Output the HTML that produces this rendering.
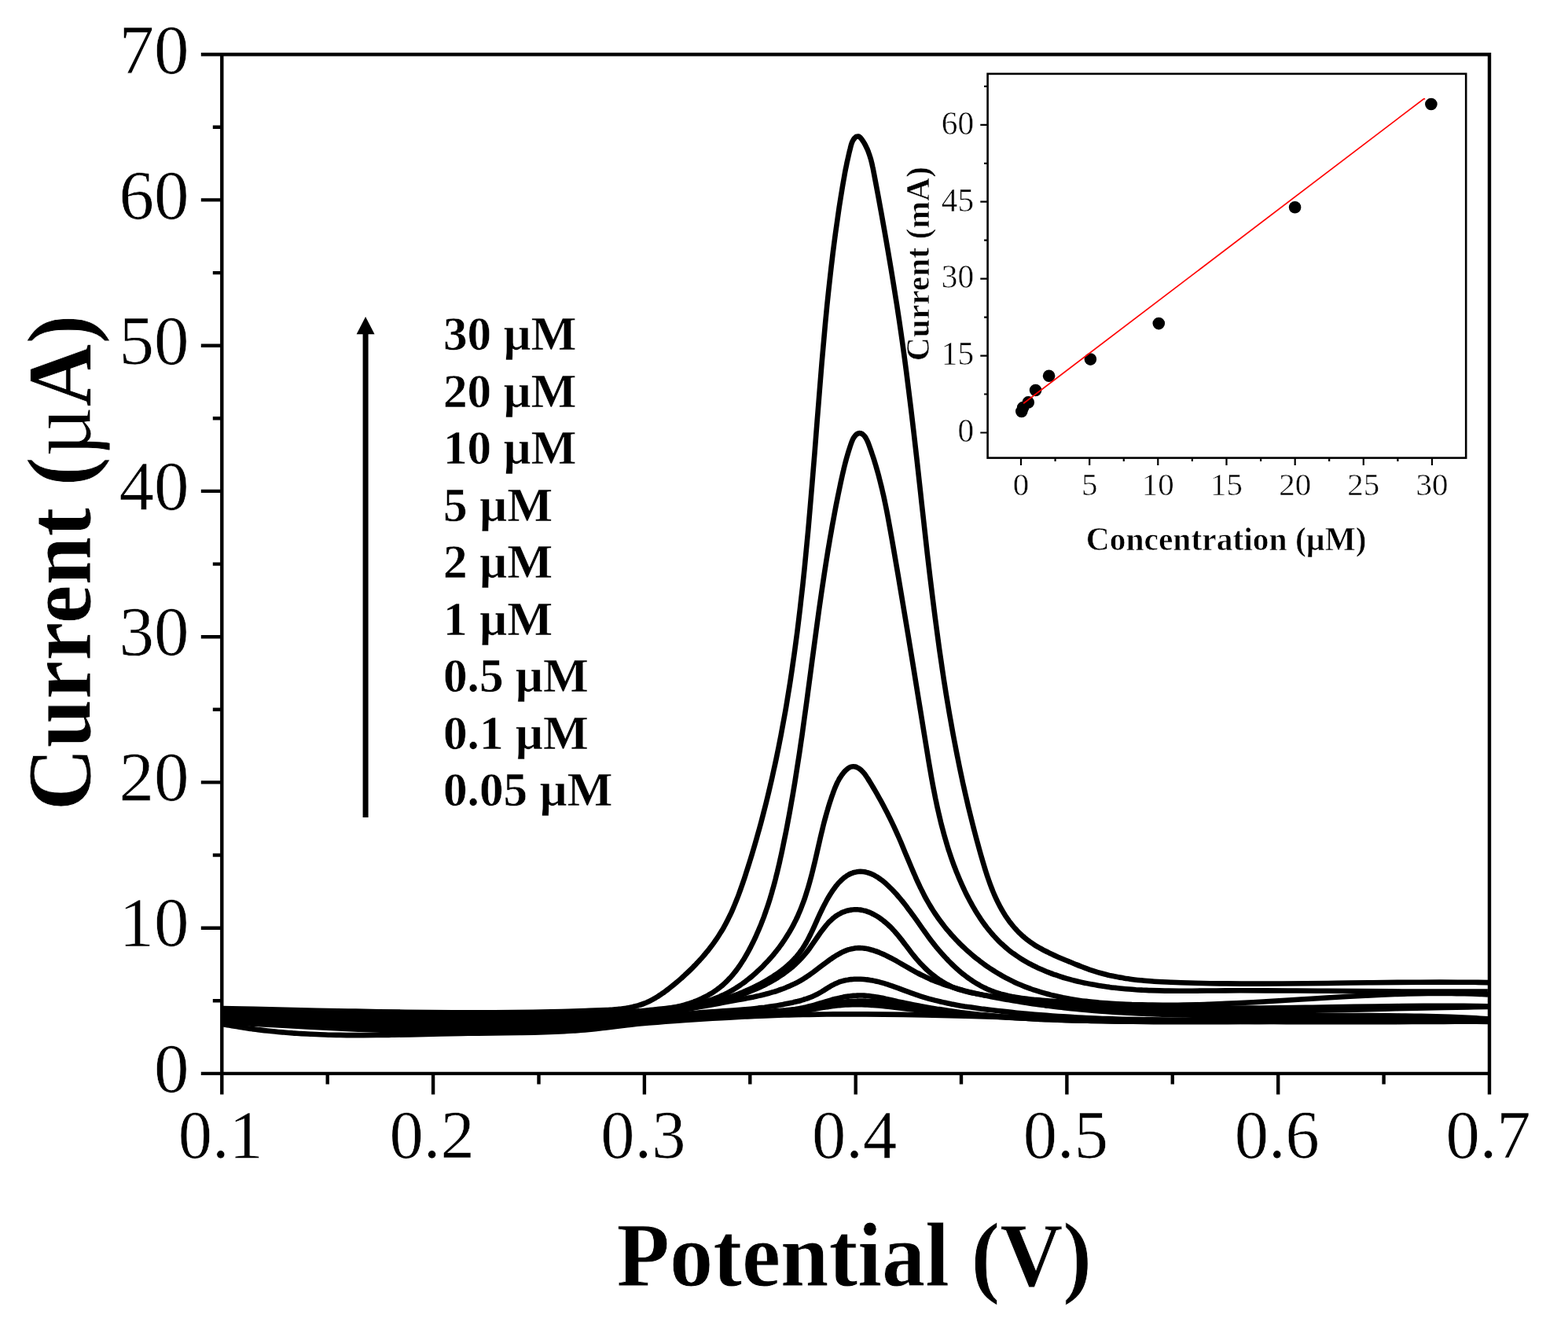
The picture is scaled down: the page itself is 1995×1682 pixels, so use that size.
<!DOCTYPE html>
<html lang="en"><head><meta charset="utf-8"><title>Current (µA) vs Potential (V)</title>
<style>html,body{margin:0;padding:0;background:#fff;}body{width:1995px;height:1682px;overflow:hidden;}svg{display:block;filter:blur(0.7px);}text{font-family:'Liberation Serif', serif;fill:#000;}</style>
</head><body>
<svg width="1995" height="1682" viewBox="0 0 1995 1682">
<rect x="0" y="0" width="1995" height="1682" fill="#fff"/>
<g fill="none" stroke="#000" stroke-width="6.6" stroke-linejoin="round" stroke-linecap="butt">
<path d="M282.9,1302.9C284.4,1303.2 288.9,1304 291.8,1304.6C294.8,1305.1 297.6,1305.6 300.7,1306.1C303.9,1306.6 307.3,1307.2 310.7,1307.7C314,1308.2 317.3,1308.6 320.6,1309.1C323.9,1309.5 327.2,1310 330.5,1310.4C333.8,1310.8 337.1,1311.2 340.4,1311.5C343.7,1311.9 346.9,1312.2 350.4,1312.5C353.8,1312.9 357.7,1313.2 361.3,1313.5C365,1313.8 368.6,1314.1 372.3,1314.4C375.9,1314.6 379.4,1314.9 383.2,1315.1C387,1315.3 391.2,1315.5 395.2,1315.7C399.2,1315.9 403,1316.1 407.2,1316.2C411.3,1316.4 415.8,1316.5 420.2,1316.7C424.5,1316.8 428.7,1316.9 433.1,1316.9C437.6,1317 442.3,1317.1 447.2,1317.1C452,1317.1 456.8,1317.1 462.2,1317.1C467.5,1317.1 473.2,1317.1 479.2,1317C485.2,1317 491,1316.9 498.2,1316.8C505.4,1316.7 511.9,1316.6 522.2,1316.4C532.6,1316.1 549.5,1315.7 560.3,1315.5C571.2,1315.3 579.4,1315.1 587.4,1314.9C595.4,1314.8 599.2,1314.7 608.4,1314.6C617.6,1314.5 633.2,1314.4 642.4,1314.3C651.6,1314.2 657.2,1314.1 663.4,1314C669.5,1313.9 674.4,1313.8 679.3,1313.7C684.3,1313.6 688.8,1313.4 693.3,1313.3C697.8,1313.1 702.1,1313 706.3,1312.8C710.4,1312.6 714.4,1312.4 718.2,1312.2C722,1312 725.7,1311.7 729.2,1311.5C732.7,1311.3 735.8,1311 739.1,1310.8C742.4,1310.5 745.8,1310.2 749.1,1309.9C752.4,1309.6 755.5,1309.3 759,1308.9C762.5,1308.5 764.8,1308.3 769.9,1307.7C775.1,1307 784.7,1305.8 789.8,1305.2C794.9,1304.6 797.3,1304.3 800.7,1303.9C804.2,1303.5 807,1303.2 810.7,1302.8C814.3,1302.5 818.3,1302.1 822.6,1301.7C826.9,1301.4 830.6,1301.1 836.6,1300.6C842.5,1300.1 850.7,1299.5 858.5,1299C866.3,1298.4 875.5,1297.8 883.5,1297.2C891.5,1296.7 899.1,1296.2 906.4,1295.8C913.8,1295.3 920.6,1294.9 927.4,1294.6C934.3,1294.2 940.9,1293.9 947.4,1293.5C954,1293.2 960.1,1292.9 966.5,1292.7C972.8,1292.4 979.3,1292.2 985.5,1291.9C991.6,1291.7 997.5,1291.6 1003.5,1291.4C1009.5,1291.2 1015.3,1291.1 1021.5,1291C1027.7,1290.8 1034,1290.7 1040.5,1290.6C1047,1290.5 1053.9,1290.5 1060.5,1290.4C1067.2,1290.4 1073.7,1290.4 1080.5,1290.4C1087.4,1290.4 1094.2,1290.4 1101.5,1290.4C1108.9,1290.5 1116.5,1290.5 1124.6,1290.6C1132.6,1290.7 1140.9,1290.8 1149.6,1290.9C1158.2,1291.1 1166.9,1291.3 1176.6,1291.5C1186.2,1291.7 1196.1,1291.9 1207.6,1292.2C1219.1,1292.5 1232.6,1292.8 1245.6,1293.2C1258.6,1293.6 1272.3,1294 1285.6,1294.4C1298.9,1294.7 1312.6,1295.1 1325.6,1295.5C1338.6,1295.9 1351.3,1296.2 1363.6,1296.5C1376,1296.8 1387.3,1297.1 1399.6,1297.3C1412,1297.6 1424.8,1297.8 1437.7,1298.1C1450.5,1298.3 1463.5,1298.5 1476.7,1298.7C1489.9,1298.9 1503.4,1299 1516.7,1299.2C1530,1299.3 1543.4,1299.5 1556.7,1299.6C1570.1,1299.7 1583.4,1299.8 1596.8,1299.9C1610.1,1300 1623.5,1300 1636.8,1300.1C1650.1,1300.1 1663.5,1300.1 1676.8,1300.2C1690.2,1300.2 1703.5,1300.2 1716.9,1300.2C1730.2,1300.2 1743.6,1300.2 1756.9,1300.1C1770.2,1300.1 1783.6,1300.1 1796.9,1300C1810.3,1300 1823.6,1299.9 1837,1299.9C1850.3,1299.8 1867.6,1299.7 1877,1299.7C1886.3,1299.6 1890.3,1299.6 1893,1299.6"/>
<path d="M283,1300.8C288.3,1301 303,1301.7 315,1302.4C326.9,1303 341.6,1303.8 354.9,1304.5C368.2,1305.2 382.2,1306 394.9,1306.6C407.6,1307.3 420.2,1307.9 430.9,1308.5C441.6,1309 450.1,1309.4 458.9,1309.8C467.7,1310.2 476.1,1310.5 483.9,1310.8C491.8,1311.2 498.8,1311.4 505.9,1311.7C513.1,1311.9 520.3,1312.1 527,1312.3C533.6,1312.5 539.6,1312.6 546,1312.8C552.3,1312.9 558.8,1313 565,1313.1C571.1,1313.2 577.1,1313.2 583,1313.3C588.8,1313.3 594.3,1313.3 600,1313.3C605.7,1313.3 611.5,1313.3 617,1313.2C622.5,1313.2 627.7,1313.1 633,1313C638.3,1312.9 643.7,1312.8 649,1312.7C654.3,1312.6 659.7,1312.4 665,1312.2C670.3,1312.1 675.6,1311.9 681,1311.6C686.3,1311.4 691.6,1311.2 696.9,1310.9C702.3,1310.7 707.8,1310.4 712.9,1310.1C718.1,1309.8 722.9,1309.5 727.9,1309.1C732.9,1308.8 737.9,1308.5 742.9,1308.1C747.8,1307.7 752.8,1307.3 757.8,1306.9C762.8,1306.5 767.8,1306.1 772.8,1305.6C777.7,1305.2 782.7,1304.7 787.7,1304.2C792.7,1303.7 796.2,1303.3 802.6,1302.6C809.1,1301.9 819,1300.8 826.5,1299.9C833.9,1299.1 841.7,1298.2 847.4,1297.6C853,1296.9 856.3,1296.6 860.3,1296.2C864.3,1295.8 867.8,1295.5 871.3,1295.2C874.7,1294.9 878.1,1294.6 881.2,1294.4C884.4,1294.2 887.2,1294 890.2,1293.8C893.2,1293.6 896.2,1293.4 899.2,1293.3C902.2,1293.2 904.8,1293.1 908.2,1293C911.5,1292.9 914,1292.8 919.2,1292.7C924.4,1292.7 933.4,1292.6 939.2,1292.5C945,1292.4 950.1,1292.4 954.2,1292.3C958.4,1292.2 961.1,1292.2 964.2,1292.1C967.4,1292 970.4,1291.8 973.2,1291.7C976.1,1291.6 978.7,1291.4 981.2,1291.3C983.7,1291.1 985.9,1290.9 988.2,1290.7C990.6,1290.5 992.9,1290.3 995.2,1290.1C997.5,1289.8 999.9,1289.6 1002.2,1289.3C1004.5,1289 1006.7,1288.7 1009.2,1288.3C1011.6,1288 1013.6,1287.7 1017.1,1287.1C1020.6,1286.5 1025.4,1285.7 1030,1284.9C1034.6,1284.1 1040.9,1283 1044.9,1282.3C1048.9,1281.6 1051.2,1281.3 1053.8,1280.9C1056.5,1280.5 1058.6,1280.2 1060.8,1279.9C1062.9,1279.7 1064.7,1279.5 1066.7,1279.3C1068.7,1279 1070.7,1278.9 1072.7,1278.7C1074.7,1278.6 1076.6,1278.5 1078.6,1278.4C1080.6,1278.3 1082.6,1278.2 1084.6,1278.2C1086.6,1278.2 1088.5,1278.1 1090.5,1278.2C1092.5,1278.2 1094.3,1278.2 1096.5,1278.2C1098.6,1278.3 1101.1,1278.4 1103.4,1278.5C1105.7,1278.6 1107.9,1278.8 1110.4,1278.9C1112.9,1279.1 1115.5,1279.3 1118.3,1279.5C1121.1,1279.8 1123.9,1280.1 1127.2,1280.4C1130.6,1280.7 1132.9,1281 1138.2,1281.6C1143.5,1282.2 1153.1,1283.4 1159,1284.1C1165,1284.7 1169,1285.2 1174,1285.7C1178.9,1286.3 1183.8,1286.8 1188.9,1287.3C1194,1287.8 1199.5,1288.3 1204.8,1288.8C1210.2,1289.3 1215.3,1289.8 1220.8,1290.2C1226.3,1290.7 1232.1,1291.2 1237.7,1291.6C1243.4,1292 1248.9,1292.4 1254.7,1292.8C1260.5,1293.2 1266.5,1293.6 1272.7,1294C1278.8,1294.4 1285.3,1294.7 1291.7,1295.1C1298,1295.4 1304.1,1295.7 1310.6,1296C1317.1,1296.3 1323.8,1296.6 1330.6,1296.9C1337.4,1297.2 1344.6,1297.5 1351.6,1297.7C1358.6,1298 1365.4,1298.2 1372.6,1298.4C1379.8,1298.6 1387.1,1298.8 1394.6,1299C1402.1,1299.1 1409.8,1299.3 1417.6,1299.4C1425.4,1299.6 1433.3,1299.7 1441.6,1299.8C1450,1299.9 1458.6,1300 1467.6,1300.1C1476.6,1300.1 1485.8,1300.2 1495.7,1300.2C1505.5,1300.2 1515.7,1300.2 1526.7,1300.2C1537.7,1300.2 1549.2,1300.2 1561.7,1300.1C1574.2,1300.1 1588.4,1300 1601.8,1299.9C1615.1,1299.8 1628.5,1299.7 1641.8,1299.6C1655.2,1299.5 1668.5,1299.4 1681.9,1299.3C1695.2,1299.2 1709.1,1299.1 1721.9,1299C1734.7,1298.9 1747.4,1298.9 1758.9,1298.8C1770.4,1298.8 1780.8,1298.8 1791,1298.8C1801.1,1298.8 1810.8,1298.9 1820,1298.9C1829.1,1299 1837.5,1299.1 1846,1299.2C1854.5,1299.3 1863.1,1299.4 1871,1299.5C1878.8,1299.6 1889.3,1299.9 1893,1299.9"/>
<path d="M283,1298.8C289.7,1299.1 309.6,1300 323,1300.6C336.3,1301.2 349.6,1301.9 362.9,1302.5C376.3,1303.1 390.4,1303.8 402.9,1304.4C415.4,1304.9 427.3,1305.4 437.9,1305.9C448.6,1306.3 457.8,1306.7 467,1307C476.1,1307.4 484.6,1307.7 493,1308C501.3,1308.2 509.3,1308.5 517,1308.7C524.7,1308.9 531.9,1309.1 539,1309.2C546.2,1309.4 553.2,1309.5 560.1,1309.6C566.9,1309.7 573.6,1309.8 580.1,1309.9C586.6,1309.9 592.8,1309.9 599.1,1310C605.4,1310 611.9,1310 618.1,1309.9C624.3,1309.9 630.3,1309.9 636.1,1309.8C641.9,1309.7 647.4,1309.7 653.1,1309.5C658.8,1309.4 664.4,1309.3 670.1,1309.2C675.8,1309 681.6,1308.8 687.1,1308.6C692.6,1308.5 697.7,1308.3 703.1,1308C708.4,1307.8 713.9,1307.5 719.1,1307.3C724.2,1307 729,1306.8 734,1306.5C739,1306.2 744,1305.8 749,1305.5C754,1305.2 759,1304.8 764,1304.4C768.9,1304.1 774.1,1303.6 778.9,1303.2C783.7,1302.8 788,1302.4 792.9,1302C797.7,1301.5 801,1301.2 807.8,1300.5C814.6,1299.8 826.2,1298.5 833.7,1297.7C841.1,1296.9 847.1,1296.3 852.6,1295.7C858.1,1295.2 862.4,1294.8 866.5,1294.4C870.7,1294 874,1293.7 877.5,1293.4C881,1293.2 884.2,1292.9 887.5,1292.7C890.8,1292.5 894.1,1292.3 897.5,1292.1C900.8,1291.9 903.8,1291.8 907.5,1291.7C911.1,1291.5 913.8,1291.4 919.5,1291.3C925.2,1291.2 935.7,1290.9 941.5,1290.8C947.3,1290.7 950.7,1290.6 954.5,1290.4C958.3,1290.3 961.3,1290.2 964.5,1290.1C967.7,1289.9 970.7,1289.7 973.5,1289.6C976.3,1289.4 979,1289.2 981.5,1289C984,1288.8 986.1,1288.6 988.4,1288.3C990.8,1288.1 993.1,1287.9 995.4,1287.6C997.7,1287.3 1000,1287 1002.4,1286.7C1004.7,1286.3 1006.8,1286 1009.3,1285.6C1011.8,1285.2 1013.9,1284.8 1017.2,1284.2C1020.5,1283.6 1024.5,1282.8 1029.1,1282C1033.7,1281.1 1040.7,1279.7 1044.8,1278.9C1049,1278.2 1051.1,1277.8 1053.7,1277.4C1056.3,1276.9 1058.5,1276.6 1060.6,1276.3C1062.7,1275.9 1064.6,1275.7 1066.5,1275.4C1068.5,1275.2 1070.5,1275 1072.4,1274.7C1074.4,1274.5 1076.4,1274.4 1078.4,1274.2C1080.3,1274.1 1082.3,1273.9 1084.3,1273.8C1086.3,1273.7 1088.2,1273.6 1090.2,1273.6C1092.2,1273.5 1094.1,1273.5 1096.1,1273.5C1098.1,1273.5 1100.1,1273.5 1102,1273.6C1104,1273.6 1106,1273.7 1108,1273.8C1109.9,1273.9 1111.9,1274 1113.9,1274.2C1115.9,1274.3 1117.8,1274.5 1119.8,1274.7C1121.8,1274.9 1123.6,1275.1 1125.7,1275.4C1127.9,1275.7 1130,1276 1132.6,1276.4C1135.3,1276.7 1137.4,1277.1 1141.5,1277.8C1145.6,1278.5 1152.9,1279.7 1157.3,1280.5C1161.8,1281.2 1164.6,1281.7 1168.2,1282.3C1171.8,1282.8 1175.5,1283.4 1179.1,1283.9C1182.7,1284.4 1186.2,1284.9 1190,1285.4C1193.8,1285.9 1197.9,1286.4 1201.9,1286.9C1205.9,1287.4 1209.9,1287.9 1213.8,1288.3C1217.8,1288.7 1221.6,1289.1 1225.8,1289.5C1229.9,1289.9 1234.3,1290.3 1238.7,1290.7C1243.2,1291.1 1247.9,1291.5 1252.7,1291.9C1257.5,1292.3 1262.5,1292.6 1267.7,1293C1272.8,1293.3 1278,1293.7 1283.6,1294C1289.3,1294.4 1295.5,1294.7 1301.6,1295C1307.8,1295.4 1314.1,1295.7 1320.6,1296C1327.1,1296.3 1333.9,1296.6 1340.6,1296.8C1347.2,1297.1 1353.7,1297.3 1360.6,1297.6C1367.4,1297.8 1374.4,1298 1381.6,1298.2C1388.7,1298.4 1396.1,1298.6 1403.6,1298.8C1411.1,1298.9 1418.7,1299.1 1426.6,1299.2C1434.4,1299.3 1442.3,1299.4 1450.6,1299.5C1458.9,1299.6 1467.6,1299.7 1476.6,1299.7C1485.6,1299.8 1494.8,1299.8 1504.6,1299.8C1514.5,1299.8 1524.5,1299.8 1535.7,1299.8C1546.8,1299.8 1559,1299.7 1571.7,1299.6C1584.4,1299.5 1598.4,1299.4 1611.8,1299.3C1625.1,1299.2 1638.5,1299.1 1651.8,1299C1665.2,1298.8 1678.5,1298.7 1691.9,1298.6C1705.2,1298.5 1719.6,1298.4 1731.9,1298.4C1744.3,1298.3 1755.3,1298.3 1765.9,1298.2C1776.6,1298.2 1786.5,1298.2 1796,1298.3C1805.5,1298.3 1814.3,1298.3 1823,1298.4C1831.6,1298.5 1839.8,1298.6 1848,1298.7C1856.1,1298.8 1864.5,1298.9 1872,1299C1879.5,1299.2 1889.5,1299.4 1893,1299.5"/>
<path d="M283,1297C286.5,1297.1 296.7,1297.3 304,1297.5C311.3,1297.6 318.8,1297.8 327,1298.1C335.2,1298.3 343.3,1298.5 353,1298.9C362.7,1299.2 373,1299.6 385,1300C397,1300.5 411.7,1301.1 425.1,1301.6C438.4,1302.1 453.3,1302.7 465.1,1303.2C477,1303.6 486.6,1304 496.1,1304.3C505.7,1304.6 514,1304.9 522.2,1305.1C530.4,1305.4 537.9,1305.6 545.2,1305.7C552.6,1305.9 559.6,1306 566.2,1306.1C572.9,1306.3 579.1,1306.3 585.3,1306.4C591.4,1306.5 597.3,1306.5 603.3,1306.5C609.3,1306.5 615.3,1306.5 621.3,1306.5C627.3,1306.5 633.3,1306.4 639.3,1306.4C645.3,1306.3 651.3,1306.2 657.3,1306.1C663.3,1306 669.3,1305.9 675.3,1305.7C681.3,1305.6 687.3,1305.4 693.3,1305.2C699.3,1305 705.3,1304.8 711.3,1304.5C717.3,1304.3 723.3,1304 729.3,1303.8C735.3,1303.5 741.3,1303.2 747.3,1302.9C753.2,1302.6 759.2,1302.2 765.2,1301.8C771.2,1301.5 777,1301.1 783.2,1300.7C789.4,1300.3 795.8,1299.8 802.2,1299.4C808.5,1298.9 814.8,1298.4 821.1,1297.9C827.4,1297.4 833.6,1296.8 840.1,1296.3C846.5,1295.7 851.9,1295.2 860,1294.4C868.1,1293.7 881.4,1292.4 888.9,1291.7C896.4,1291 900,1290.7 904.9,1290.3C909.7,1289.8 913.9,1289.5 917.8,1289.2C921.8,1288.9 925.2,1288.7 928.8,1288.5C932.5,1288.2 936.3,1288 939.8,1287.8C943.3,1287.7 946,1287.6 949.9,1287.4C953.7,1287.3 958.2,1287.2 962.9,1287C967.6,1286.9 973.9,1286.8 977.9,1286.6C981.9,1286.5 984.3,1286.4 986.9,1286.3C989.6,1286.1 991.7,1286 993.9,1285.8C996.1,1285.7 997.9,1285.5 999.9,1285.4C1001.9,1285.2 1003.8,1285 1005.8,1284.7C1007.8,1284.5 1009.9,1284.2 1011.7,1284C1013.6,1283.7 1015,1283.5 1016.7,1283.2C1018.3,1282.9 1019.9,1282.6 1021.6,1282.3C1023.2,1281.9 1024.8,1281.6 1026.5,1281.2C1028.1,1280.8 1029.5,1280.5 1031.3,1280C1033.1,1279.5 1034.2,1279.2 1037.2,1278.4C1040.1,1277.6 1045.4,1276 1048.8,1275C1052.2,1274 1055.1,1273.1 1057.5,1272.4C1059.9,1271.7 1061.5,1271.3 1063.3,1270.8C1065.1,1270.4 1066.5,1270 1068.2,1269.7C1069.8,1269.3 1071.4,1269 1073,1268.6C1074.7,1268.3 1076.5,1268 1077.9,1267.8C1079.4,1267.6 1080.5,1267.4 1081.8,1267.3C1083.1,1267.1 1084.4,1267 1085.8,1266.8C1087.1,1266.7 1088.4,1266.6 1089.7,1266.6C1091,1266.5 1092.3,1266.5 1093.6,1266.5C1094.9,1266.5 1096.2,1266.5 1097.5,1266.5C1098.8,1266.6 1100.2,1266.6 1101.5,1266.7C1102.8,1266.8 1103.9,1266.9 1105.4,1267.1C1106.9,1267.3 1108.7,1267.5 1110.3,1267.7C1111.9,1267.9 1113.4,1268.2 1115.2,1268.5C1117,1268.8 1119,1269.2 1121.1,1269.6C1123.3,1270 1124.6,1270.3 1128,1271.1C1131.5,1271.8 1137.9,1273.3 1141.8,1274.2C1145.7,1275 1148.2,1275.6 1151.6,1276.3C1155.1,1277 1158.9,1277.7 1162.5,1278.4C1166.1,1279.2 1169.7,1279.8 1173.3,1280.5C1176.9,1281.1 1180.6,1281.8 1184.2,1282.4C1187.8,1283 1191.4,1283.6 1195,1284.1C1198.7,1284.7 1202.1,1285.2 1205.9,1285.8C1209.7,1286.3 1213.8,1286.9 1217.8,1287.4C1221.7,1288 1225.7,1288.5 1229.7,1289C1233.6,1289.4 1237.6,1289.9 1241.6,1290.3C1245.5,1290.8 1249.3,1291.2 1253.5,1291.6C1257.6,1292 1262.1,1292.4 1266.4,1292.8C1270.7,1293.2 1275,1293.6 1279.3,1293.9C1283.6,1294.3 1287.8,1294.6 1292.3,1294.9C1296.8,1295.2 1301.6,1295.5 1306.2,1295.8C1310.9,1296.1 1315.4,1296.4 1320.2,1296.6C1325,1296.9 1330.2,1297.1 1335.2,1297.3C1340.2,1297.5 1345,1297.7 1350.2,1297.9C1355.3,1298.1 1360.7,1298.2 1366.2,1298.4C1371.7,1298.5 1377.4,1298.6 1383.2,1298.7C1389,1298.9 1395.1,1298.9 1401.2,1299C1407.4,1299.1 1413.6,1299.1 1420.3,1299.1C1427,1299.2 1433.8,1299.2 1441.3,1299.2C1448.9,1299.2 1456.4,1299.1 1465.4,1299.1C1474.4,1299 1483.8,1298.9 1495.5,1298.8C1507.2,1298.6 1522.8,1298.4 1535.7,1298.3C1548.5,1298.1 1562.1,1297.9 1572.8,1297.8C1583.5,1297.7 1591,1297.7 1599.8,1297.6C1608.7,1297.6 1616.5,1297.5 1625.8,1297.5C1635.2,1297.5 1644.5,1297.6 1655.8,1297.6C1667.2,1297.7 1680.8,1297.7 1693.8,1297.8C1706.8,1297.9 1720.5,1298 1733.8,1298.1C1747.1,1298.2 1761.8,1298.3 1773.8,1298.4C1785.8,1298.5 1795.9,1298.5 1805.8,1298.5C1815.6,1298.5 1824.3,1298.5 1832.8,1298.5C1841.3,1298.5 1849.2,1298.4 1856.9,1298.3C1864.6,1298.3 1872.9,1298.2 1879,1298.1C1885,1298 1890.7,1297.9 1893,1297.8"/>
<path d="M283.1,1295.4C285.9,1295.4 294.2,1295.4 300,1295.5C305.8,1295.5 311.8,1295.6 318,1295.7C324.1,1295.8 330.3,1295.9 336.9,1296C343.6,1296.2 350.6,1296.3 357.9,1296.5C365.3,1296.7 372.4,1296.9 380.9,1297.2C389.4,1297.5 398,1297.8 409,1298.2C420,1298.6 434,1299.2 447,1299.7C460.1,1300.2 475.3,1300.8 487.1,1301.3C499,1301.7 509,1302.1 518.2,1302.4C527.4,1302.8 534.6,1303 542.3,1303.2C550,1303.4 557.3,1303.6 564.3,1303.8C571.3,1304 578,1304.1 584.4,1304.2C590.7,1304.3 596.5,1304.4 602.4,1304.4C608.2,1304.5 613.9,1304.5 619.4,1304.5C624.9,1304.5 630.1,1304.5 635.4,1304.5C640.8,1304.5 646.3,1304.4 651.4,1304.3C656.6,1304.3 661.4,1304.2 666.4,1304.1C671.4,1304 676.6,1303.8 681.4,1303.7C686.2,1303.5 690.7,1303.3 695.4,1303.1C700,1303 704.5,1302.7 709.4,1302.5C714.2,1302.3 719.2,1302 724.3,1301.7C729.5,1301.4 734.6,1301 740.3,1300.7C745.9,1300.3 751.7,1299.9 758.2,1299.4C764.7,1298.9 771,1298.4 779.1,1297.7C787.2,1297.1 795.9,1296.3 807,1295.4C818.1,1294.4 835.3,1292.9 845.9,1292C856.5,1291.1 863.4,1290.6 870.9,1290C878.4,1289.4 884.2,1288.9 890.9,1288.4C897.6,1287.9 903.9,1287.5 910.9,1287C917.9,1286.5 927.3,1285.9 933,1285.5C938.6,1285.1 941.3,1284.9 945,1284.6C948.6,1284.3 951.8,1284 955,1283.7C958.1,1283.4 960.9,1283.1 963.9,1282.7C966.9,1282.4 970,1282 972.8,1281.7C975.6,1281.3 978.1,1281 980.7,1280.6C983.4,1280.2 986.1,1279.8 988.6,1279.4C991,1279 993.2,1278.6 995.5,1278.2C997.7,1277.8 1000,1277.3 1002.3,1276.8C1004.5,1276.4 1007,1275.8 1009.1,1275.4C1011.2,1274.9 1013.1,1274.4 1014.9,1274C1016.6,1273.5 1018.1,1273.1 1019.7,1272.7C1021.2,1272.2 1023,1271.7 1024.4,1271.2C1025.8,1270.8 1026.9,1270.4 1028.1,1270C1029.4,1269.5 1030.6,1269 1031.8,1268.6C1033.1,1268.1 1034.3,1267.5 1035.5,1267C1036.7,1266.5 1037.9,1265.9 1039.1,1265.3C1040.2,1264.7 1041.3,1264.1 1042.6,1263.4C1043.9,1262.7 1045,1262 1046.9,1260.8C1048.7,1259.7 1051.8,1257.7 1053.7,1256.6C1055.5,1255.4 1056.7,1254.8 1058,1254C1059.3,1253.3 1060.5,1252.7 1061.6,1252.1C1062.6,1251.6 1063.4,1251.3 1064.3,1250.9C1065.2,1250.5 1066.1,1250.1 1067.1,1249.7C1068,1249.4 1069,1249 1069.9,1248.7C1070.9,1248.4 1071.9,1248.2 1072.8,1247.9C1073.8,1247.7 1074.8,1247.4 1075.8,1247.2C1076.8,1247 1077.6,1246.8 1078.8,1246.7C1080,1246.5 1081.5,1246.3 1082.8,1246.1C1084.2,1246 1085.5,1245.9 1086.9,1245.8C1088.2,1245.7 1089.6,1245.7 1090.9,1245.7C1092.3,1245.7 1093.6,1245.7 1094.9,1245.7C1096.3,1245.8 1097.6,1245.9 1098.9,1246C1100.2,1246.1 1101.5,1246.2 1102.9,1246.4C1104.2,1246.5 1105.5,1246.7 1106.8,1246.9C1108.1,1247.1 1109.4,1247.4 1110.7,1247.6C1112,1247.9 1113.1,1248.1 1114.6,1248.4C1116,1248.7 1117.8,1249.2 1119.4,1249.6C1121,1250 1122.4,1250.4 1124.2,1250.9C1125.9,1251.4 1128,1252.1 1129.9,1252.7C1131.8,1253.3 1133.4,1253.8 1135.6,1254.6C1137.8,1255.4 1139.6,1256 1143.2,1257.3C1146.8,1258.7 1153.7,1261.3 1157.4,1262.6C1161,1263.9 1162.8,1264.6 1165,1265.3C1167.2,1266.1 1168.8,1266.7 1170.7,1267.3C1172.6,1267.9 1174.5,1268.5 1176.4,1269.1C1178.4,1269.7 1180.1,1270.2 1182.2,1270.8C1184.3,1271.4 1186.7,1272 1189,1272.6C1191.3,1273.2 1193.5,1273.8 1195.8,1274.3C1198.1,1274.8 1200.2,1275.3 1202.6,1275.8C1205.1,1276.3 1207.9,1276.9 1210.5,1277.4C1213.1,1277.9 1215.6,1278.4 1218.4,1278.9C1221.1,1279.4 1224.1,1279.9 1227.2,1280.4C1230.4,1280.8 1233.7,1281.3 1237.1,1281.8C1240.6,1282.3 1244.1,1282.8 1248,1283.4C1252,1283.9 1256.5,1284.5 1260.9,1285C1265.4,1285.5 1270.2,1286.1 1274.8,1286.6C1279.5,1287.2 1284.1,1287.7 1288.7,1288.1C1293.4,1288.6 1298,1289.1 1302.7,1289.5C1307.3,1289.9 1311.8,1290.3 1316.6,1290.7C1321.4,1291.1 1326.5,1291.5 1331.5,1291.9C1336.5,1292.3 1341.5,1292.6 1346.5,1293C1351.5,1293.3 1356.3,1293.6 1361.4,1293.9C1366.6,1294.2 1372.1,1294.5 1377.4,1294.8C1382.7,1295 1387.9,1295.3 1393.4,1295.5C1398.9,1295.7 1404.7,1296 1410.4,1296.1C1416,1296.3 1421.5,1296.5 1427.3,1296.7C1433.2,1296.8 1439.2,1297 1445.4,1297.1C1451.5,1297.2 1457.9,1297.3 1464.4,1297.4C1470.9,1297.5 1477.4,1297.5 1484.4,1297.6C1491.4,1297.6 1498.9,1297.7 1506.4,1297.7C1513.9,1297.7 1521.3,1297.7 1529.5,1297.6C1537.6,1297.6 1546,1297.5 1555.5,1297.4C1565,1297.3 1574.9,1297.2 1586.6,1297.1C1598.3,1296.9 1612.5,1296.7 1625.7,1296.5C1638.9,1296.3 1652.9,1296 1665.8,1295.8C1678.7,1295.6 1691.9,1295.4 1702.9,1295.3C1713.9,1295.1 1722.9,1295 1732,1295C1741,1294.9 1749,1294.8 1757,1294.8C1765,1294.8 1772.7,1294.8 1780,1294.8C1787.4,1294.8 1794.2,1294.9 1801,1294.9C1807.9,1295 1814.5,1295 1821,1295.1C1827.5,1295.2 1833.9,1295.4 1840,1295.5C1846.2,1295.6 1852.2,1295.8 1858,1295.9C1863.8,1296.1 1869.3,1296.3 1875,1296.5C1880.6,1296.7 1888.9,1297.1 1891.9,1297.2C1894.9,1297.3 1892.7,1297.2 1892.9,1297.2"/>
<path d="M283,1292.5C285.7,1292.7 293.5,1293.1 299,1293.4C304.5,1293.7 310.2,1293.9 316,1294.2C321.9,1294.4 327.7,1294.6 334,1294.9C340.4,1295.1 347,1295.3 354,1295.5C361,1295.7 367.9,1295.9 376,1296.1C384.2,1296.3 392.3,1296.4 403,1296.6C413.7,1296.8 427.3,1297 440,1297.2C452.6,1297.4 467.6,1297.6 479,1297.8C490.3,1298 496.8,1298.2 508,1298.4C519.2,1298.6 533.7,1299 546.1,1299.3C558.4,1299.6 572,1299.9 582.2,1300.1C592.4,1300.3 599.5,1300.4 607.2,1300.6C614.9,1300.7 621.8,1300.8 628.3,1300.8C634.8,1300.9 640.5,1300.9 646.3,1300.9C652.1,1301 657.8,1300.9 663.3,1300.9C668.8,1300.9 674.1,1300.8 679.3,1300.8C684.5,1300.7 689.5,1300.6 694.3,1300.5C699.1,1300.4 703.6,1300.3 708.3,1300.1C712.9,1300 717.6,1299.8 722.2,1299.7C726.9,1299.5 731.7,1299.2 736.2,1299C740.7,1298.8 744.8,1298.6 749.1,1298.3C753.5,1298.1 757.8,1297.8 762.1,1297.5C766.4,1297.2 770.9,1296.8 775,1296.5C779.2,1296.2 783,1295.8 786.9,1295.5C790.9,1295.1 794.9,1294.7 798.9,1294.3C802.9,1293.9 806.8,1293.5 810.8,1293C814.8,1292.6 818.7,1292.1 822.7,1291.6C826.7,1291.1 830.7,1290.6 834.6,1290.1C838.6,1289.5 842.6,1289 846.6,1288.4C850.5,1287.8 854.3,1287.2 858.5,1286.5C862.6,1285.9 866.6,1285.2 871.4,1284.4C876.2,1283.6 879.8,1282.9 887.3,1281.6C894.7,1280.3 907.2,1278 916,1276.4C924.7,1274.8 933.9,1273.2 939.6,1272.1C945.4,1271.1 947.1,1270.8 950.4,1270.1C953.6,1269.5 956.6,1268.9 959.1,1268.4C961.7,1267.8 963.7,1267.4 965.9,1266.9C968.2,1266.4 970.6,1265.8 972.6,1265.3C974.7,1264.7 976.4,1264.3 978.3,1263.8C980.2,1263.2 982.1,1262.7 984,1262.1C985.9,1261.6 987.9,1260.9 989.6,1260.3C991.3,1259.8 992.7,1259.3 994.3,1258.7C995.8,1258.2 997.3,1257.6 998.9,1257C1000.4,1256.4 1001.9,1255.8 1003.4,1255.1C1004.9,1254.5 1006.4,1253.8 1007.9,1253.1C1009.4,1252.4 1010.9,1251.7 1012.4,1250.9C1013.9,1250.2 1015.4,1249.4 1016.8,1248.6C1018.3,1247.8 1019.7,1246.9 1021.2,1246.1C1022.6,1245.2 1024.1,1244.3 1025.5,1243.4C1026.9,1242.5 1028.2,1241.6 1029.8,1240.5C1031.3,1239.4 1032.7,1238.4 1034.8,1236.9C1036.9,1235.3 1039.5,1233.3 1042.3,1231.2C1045.1,1229.1 1049,1226.1 1051.4,1224.3C1053.7,1222.6 1054.8,1221.8 1056.3,1220.7C1057.9,1219.7 1059.2,1218.7 1060.5,1217.9C1061.7,1217.1 1062.7,1216.5 1063.8,1215.8C1064.9,1215.1 1066.1,1214.4 1067.2,1213.8C1068.3,1213.2 1069.6,1212.5 1070.6,1212C1071.6,1211.5 1072.3,1211.2 1073.1,1210.8C1074,1210.4 1074.9,1210 1075.7,1209.7C1076.6,1209.3 1077.4,1209 1078.3,1208.7C1079.2,1208.4 1080.1,1208.1 1080.9,1207.9C1081.8,1207.6 1082.7,1207.4 1083.6,1207.2C1084.5,1207 1085.4,1206.8 1086.3,1206.7C1087.2,1206.5 1088.1,1206.4 1089,1206.3C1089.9,1206.2 1090.8,1206.2 1091.7,1206.1C1092.7,1206.1 1093.6,1206.1 1094.5,1206.1C1095.5,1206.2 1096.4,1206.2 1097.3,1206.3C1098.3,1206.4 1099.2,1206.5 1100.2,1206.6C1101.1,1206.8 1102.1,1206.9 1103,1207.1C1104,1207.3 1104.8,1207.5 1105.9,1207.7C1107,1208 1108.4,1208.4 1109.7,1208.8C1111,1209.1 1112.3,1209.6 1113.6,1210C1114.8,1210.4 1116.1,1210.9 1117.4,1211.4C1118.7,1211.9 1119.8,1212.4 1121.3,1213C1122.7,1213.6 1124.5,1214.4 1126.1,1215.1C1127.6,1215.9 1129.1,1216.6 1130.8,1217.5C1132.5,1218.3 1134.4,1219.3 1136.4,1220.4C1138.4,1221.5 1139.9,1222.3 1142.8,1224C1145.8,1225.7 1151.1,1228.8 1154.4,1230.6C1157.6,1232.5 1160,1233.9 1162.2,1235.1C1164.4,1236.3 1165.7,1237.1 1167.5,1238C1169.2,1238.9 1171,1239.8 1172.8,1240.7C1174.5,1241.6 1176.3,1242.5 1178.1,1243.3C1179.9,1244.2 1181.7,1245 1183.5,1245.8C1185.4,1246.5 1187.2,1247.3 1189,1248.1C1190.9,1248.8 1192.7,1249.5 1194.6,1250.2C1196.4,1250.9 1198.3,1251.6 1200.2,1252.3C1202.1,1252.9 1203.8,1253.5 1205.8,1254.2C1207.9,1254.9 1210.3,1255.6 1212.5,1256.3C1214.7,1257 1216.9,1257.6 1219.2,1258.3C1221.4,1258.9 1223.5,1259.5 1225.9,1260.1C1228.3,1260.7 1231.1,1261.4 1233.7,1262.1C1236.3,1262.7 1238.7,1263.3 1241.5,1263.9C1244.3,1264.5 1247.2,1265.2 1250.3,1265.9C1253.4,1266.5 1256.7,1267.2 1260.1,1267.9C1263.6,1268.6 1267.2,1269.3 1271,1270C1274.7,1270.7 1278.8,1271.4 1282.8,1272.1C1286.7,1272.8 1290.7,1273.5 1294.6,1274.1C1298.6,1274.8 1302.5,1275.4 1306.5,1276C1310.5,1276.6 1314.4,1277.2 1318.4,1277.7C1322.3,1278.3 1326.1,1278.8 1330.3,1279.4C1334.4,1279.9 1338.9,1280.4 1343.2,1281C1347.5,1281.5 1351.8,1282 1356.1,1282.4C1360.4,1282.9 1364.7,1283.3 1369,1283.8C1373.3,1284.2 1377.5,1284.6 1381.9,1285C1386.4,1285.4 1391.2,1285.8 1395.9,1286.2C1400.5,1286.5 1405,1286.9 1409.8,1287.2C1414.7,1287.5 1419.8,1287.9 1424.8,1288.2C1429.8,1288.5 1434.6,1288.8 1439.8,1289C1444.9,1289.3 1450.3,1289.6 1455.8,1289.8C1461.3,1290.1 1467.1,1290.3 1472.8,1290.5C1478.4,1290.7 1483.8,1290.9 1489.8,1291C1495.8,1291.2 1502.3,1291.4 1508.8,1291.5C1515.3,1291.7 1521.9,1291.8 1528.8,1291.9C1535.6,1292 1542.3,1292.1 1549.8,1292.2C1557.3,1292.2 1565.1,1292.3 1573.8,1292.3C1582.5,1292.4 1591,1292.4 1601.8,1292.4C1612.7,1292.4 1626,1292.3 1638.8,1292.3C1651.7,1292.2 1666.2,1292.1 1678.9,1292.1C1691.6,1292.1 1704.2,1292 1714.9,1292C1725.6,1292 1734.3,1292 1742.9,1292.1C1751.6,1292.1 1759.5,1292.2 1767,1292.2C1774.5,1292.3 1781.1,1292.4 1788,1292.5C1794.8,1292.6 1801.5,1292.7 1808,1292.9C1814.5,1293 1820.8,1293.2 1827,1293.3C1833.2,1293.5 1839.2,1293.7 1845,1293.9C1850.8,1294.1 1856.5,1294.4 1862,1294.6C1867.5,1294.9 1872.8,1295.1 1878,1295.4C1883.2,1295.7 1890.5,1296.1 1893,1296.2"/>
<path d="M282.8,1290.7C289.5,1290.9 309.7,1291.6 323.1,1292.1C336.6,1292.5 350.3,1292.9 363.3,1293.3C376.4,1293.7 389,1294.1 401.4,1294.4C413.7,1294.8 425.7,1295.1 437.3,1295.3C448.9,1295.6 460.2,1295.8 471.2,1296.1C482.2,1296.3 492.6,1296.5 503.1,1296.6C513.5,1296.8 523.8,1296.9 534,1297C544.1,1297.2 554.1,1297.3 563.9,1297.3C573.7,1297.4 583.3,1297.5 592.8,1297.5C602.3,1297.5 611.4,1297.5 620.8,1297.5C630.1,1297.5 639.6,1297.5 648.8,1297.4C658,1297.4 666.8,1297.3 675.9,1297.2C684.9,1297.1 695,1297 703.1,1296.9C711.1,1296.7 717.8,1296.6 724.2,1296.5C730.6,1296.4 736,1296.2 741.4,1296.1C746.8,1295.9 751.8,1295.7 756.5,1295.5C761.3,1295.4 765.5,1295.2 769.7,1295C773.9,1294.8 777.7,1294.6 781.7,1294.3C785.8,1294.1 790,1293.8 793.8,1293.5C797.7,1293.3 801.2,1293 804.8,1292.7C808.5,1292.4 812.4,1292.1 815.9,1291.7C819.4,1291.4 822.5,1291.1 825.8,1290.7C829.2,1290.4 832.5,1290 835.8,1289.6C839.1,1289.2 842.6,1288.7 845.7,1288.3C848.9,1287.9 851.7,1287.4 854.6,1287C857.6,1286.5 860.5,1286.1 863.5,1285.6C866.4,1285.1 869.4,1284.6 872.3,1284C875.3,1283.5 878.4,1282.9 881.1,1282.4C883.9,1281.8 886.3,1281.3 888.9,1280.7C891.5,1280.2 894.1,1279.6 896.7,1279C899.3,1278.4 901.8,1277.8 904.4,1277.1C907,1276.5 909.5,1275.8 912.1,1275.1C914.7,1274.5 917.2,1273.8 919.8,1273C922.3,1272.3 924.8,1271.5 927.4,1270.8C929.9,1270 932.6,1269.1 935,1268.3C937.3,1267.6 939.4,1266.9 941.5,1266.1C943.7,1265.4 945.9,1264.6 948.1,1263.8C950.3,1263 952.6,1262.1 954.6,1261.3C956.6,1260.5 958.3,1259.8 960.1,1259C961.9,1258.2 963.7,1257.4 965.6,1256.6C967.4,1255.8 969.2,1255 970.9,1254.1C972.7,1253.2 974.6,1252.3 976.2,1251.4C977.8,1250.6 979.1,1249.9 980.6,1249.1C982,1248.3 983.5,1247.5 984.9,1246.7C986.3,1245.8 987.7,1245 989.1,1244.1C990.5,1243.2 991.9,1242.4 993.3,1241.4C994.6,1240.5 996,1239.6 997.3,1238.6C998.7,1237.7 1000,1236.7 1001.3,1235.7C1002.6,1234.7 1003.9,1233.7 1005.2,1232.7C1006.5,1231.6 1007.8,1230.6 1009,1229.5C1010.3,1228.4 1011.5,1227.3 1012.7,1226.1C1014,1225 1015.2,1223.8 1016.3,1222.6C1017.5,1221.4 1018.7,1220.2 1019.8,1219C1021,1217.7 1022.1,1216.5 1023.2,1215.2C1024.3,1213.9 1025.4,1212.6 1026.5,1211.2C1027.6,1209.9 1028.5,1208.6 1029.7,1207.1C1030.8,1205.5 1031.5,1204.5 1033.3,1201.9C1035.1,1199.3 1038.6,1194.2 1040.5,1191.5C1042.4,1188.8 1043.5,1187.2 1044.7,1185.5C1046,1183.8 1046.9,1182.6 1047.8,1181.4C1048.8,1180.1 1049.5,1179.2 1050.4,1178.2C1051.3,1177.1 1052.1,1176.1 1053,1175.1C1053.9,1174.1 1055,1173 1055.8,1172.2C1056.6,1171.4 1057.2,1170.8 1057.9,1170.2C1058.6,1169.5 1059.4,1168.9 1060.1,1168.2C1060.9,1167.6 1061.6,1167 1062.4,1166.4C1063.2,1165.8 1064,1165.3 1064.8,1164.7C1065.6,1164.2 1066.4,1163.7 1067.2,1163.2C1068.1,1162.7 1068.9,1162.3 1069.8,1161.9C1070.6,1161.4 1071.5,1161 1072.4,1160.6C1073.3,1160.3 1074.2,1159.9 1075.1,1159.6C1076,1159.3 1076.9,1159 1077.8,1158.7C1078.7,1158.5 1079.6,1158.2 1080.6,1158.1C1081.5,1157.9 1082.4,1157.7 1083.4,1157.6C1084.3,1157.4 1085.3,1157.3 1086.2,1157.3C1087.1,1157.2 1088.1,1157.2 1089,1157.2C1090,1157.2 1090.9,1157.2 1091.8,1157.3C1092.8,1157.3 1093.7,1157.5 1094.6,1157.6C1095.6,1157.7 1096.5,1157.9 1097.4,1158.1C1098.4,1158.3 1099.3,1158.5 1100.2,1158.8C1101.2,1159 1102.1,1159.3 1103,1159.6C1103.9,1159.9 1104.8,1160.3 1105.7,1160.6C1106.6,1161 1107.5,1161.4 1108.4,1161.8C1109.3,1162.2 1110.2,1162.7 1111.1,1163.1C1112,1163.6 1112.8,1164 1113.8,1164.6C1114.8,1165.1 1116.1,1165.9 1117.2,1166.7C1118.4,1167.4 1119.5,1168.2 1120.6,1169C1121.7,1169.8 1122.8,1170.6 1123.9,1171.5C1125,1172.3 1126.1,1173.2 1127.1,1174.1C1128.2,1175 1129.2,1175.9 1130.2,1176.8C1131.2,1177.8 1132.2,1178.7 1133.2,1179.7C1134.2,1180.7 1135,1181.5 1136.1,1182.7C1137.1,1183.8 1138.4,1185.2 1139.5,1186.5C1140.6,1187.7 1141.6,1188.9 1142.8,1190.3C1144,1191.8 1145,1193.1 1146.6,1195.1C1148.1,1197.1 1150.1,1199.6 1152.1,1202.3C1154.2,1205 1157.1,1208.9 1158.9,1211.2C1160.6,1213.4 1161.4,1214.4 1162.6,1215.9C1163.9,1217.5 1165.3,1219.2 1166.5,1220.6C1167.7,1222 1168.8,1223.1 1169.9,1224.4C1171,1225.6 1172.2,1226.8 1173.4,1228C1174.5,1229.2 1175.7,1230.4 1176.9,1231.6C1178.1,1232.8 1179.3,1233.9 1180.6,1235.1C1181.8,1236.2 1183.1,1237.3 1184.3,1238.4C1185.6,1239.4 1187,1240.6 1188.2,1241.5C1189.4,1242.4 1190.3,1243.1 1191.3,1243.9C1192.4,1244.7 1193.5,1245.5 1194.6,1246.2C1195.7,1246.9 1196.8,1247.7 1197.9,1248.4C1199,1249.1 1200.1,1249.7 1201.2,1250.4C1202.4,1251.1 1203.5,1251.7 1204.6,1252.3C1205.8,1252.9 1207,1253.5 1208.1,1254.1C1209.3,1254.6 1210.5,1255.2 1211.7,1255.7C1212.9,1256.2 1214.1,1256.7 1215.3,1257.1C1216.5,1257.6 1217.8,1258.1 1219,1258.5C1220.2,1258.9 1221.3,1259.3 1222.7,1259.7C1224.2,1260.2 1225.9,1260.7 1227.5,1261.1C1229.1,1261.5 1230.7,1261.9 1232.3,1262.3C1233.9,1262.7 1235.4,1263.1 1237.1,1263.4C1238.9,1263.8 1240.9,1264.2 1243,1264.6C1245.2,1265 1247.3,1265.4 1250,1265.8C1252.6,1266.3 1255.1,1266.7 1258.9,1267.2C1262.8,1267.8 1268.2,1268.6 1272.9,1269.3C1277.6,1269.9 1282.2,1270.5 1286.9,1271.2C1291.5,1271.8 1296.2,1272.4 1300.9,1272.9C1305.5,1273.5 1310,1274 1314.8,1274.6C1319.7,1275.1 1324.8,1275.7 1329.8,1276.2C1334.8,1276.7 1339.8,1277.2 1344.8,1277.7C1349.8,1278.1 1354.8,1278.6 1359.8,1279C1364.8,1279.4 1369.6,1279.8 1374.8,1280.2C1379.9,1280.6 1385.4,1281 1390.7,1281.4C1396.1,1281.8 1401.4,1282.1 1406.7,1282.5C1412.1,1282.8 1417.2,1283.1 1422.7,1283.4C1428.2,1283.7 1434,1284 1439.7,1284.2C1445.4,1284.5 1450.9,1284.7 1456.7,1284.9C1462.5,1285.1 1468.7,1285.4 1474.7,1285.5C1480.7,1285.7 1486.5,1285.9 1492.7,1286C1498.9,1286.2 1505.2,1286.3 1511.7,1286.4C1518.2,1286.5 1524.9,1286.6 1531.7,1286.7C1538.5,1286.8 1545.5,1286.8 1552.7,1286.8C1559.9,1286.9 1567.2,1286.9 1574.7,1286.9C1582.2,1286.8 1589.7,1286.8 1597.7,1286.8C1605.7,1286.7 1613.9,1286.6 1622.7,1286.5C1631.6,1286.4 1640.7,1286.3 1650.7,1286.1C1660.7,1285.9 1670.9,1285.7 1682.8,1285.5C1694.6,1285.2 1708.6,1284.9 1721.8,1284.6C1735,1284.3 1748.5,1283.9 1761.9,1283.6C1775.2,1283.3 1789.2,1282.9 1801.9,1282.6C1814.6,1282.4 1826.9,1282.1 1838,1281.9C1849,1281.7 1858.8,1281.5 1868,1281.4C1877.2,1281.2 1888.9,1281.1 1893,1281"/>
<path d="M282.9,1288.7C289.6,1288.9 309.7,1289.6 323.1,1289.9C336.4,1290.3 349.8,1290.7 363.2,1291.1C376.5,1291.5 390,1291.9 403.2,1292.2C416.4,1292.5 429.9,1292.9 442.2,1293.2C454.5,1293.4 466,1293.7 477.1,1293.9C488.3,1294.1 498.7,1294.3 509.1,1294.5C519.4,1294.6 529.3,1294.7 539,1294.9C548.6,1295 557.8,1295 566.9,1295.1C576.1,1295.2 585.1,1295.2 593.9,1295.2C602.7,1295.3 611.4,1295.3 619.9,1295.2C628.4,1295.2 636.7,1295.2 644.9,1295.1C653,1295 660.9,1295 668.9,1294.9C676.9,1294.8 685.1,1294.6 692.9,1294.5C700.8,1294.3 708.3,1294.2 716,1294C723.7,1293.8 731.5,1293.6 739.1,1293.4C746.6,1293.2 754.7,1292.9 761.2,1292.7C767.7,1292.5 773.1,1292.2 778.3,1292C783.5,1291.8 788,1291.6 792.4,1291.4C796.8,1291.1 800.6,1290.9 804.5,1290.7C808.3,1290.4 812,1290.2 815.5,1289.9C819,1289.6 822.2,1289.4 825.5,1289.1C828.8,1288.8 832.3,1288.4 835.5,1288.1C838.6,1287.8 841.5,1287.5 844.4,1287.1C847.4,1286.8 850.6,1286.4 853.4,1286C856.2,1285.6 858.6,1285.3 861.3,1284.9C863.9,1284.5 866.5,1284 869.1,1283.6C871.7,1283.2 874.3,1282.7 877,1282.2C879.6,1281.7 882.3,1281.2 884.7,1280.7C887.2,1280.2 889.3,1279.7 891.5,1279.2C893.8,1278.7 896.1,1278.2 898.3,1277.6C900.5,1277.1 902.8,1276.5 905,1275.9C907.3,1275.3 909.5,1274.7 911.7,1274C913.9,1273.4 916.2,1272.7 918.4,1272C920.6,1271.3 922.8,1270.6 925,1269.9C927.2,1269.2 929.5,1268.3 931.5,1267.6C933.6,1266.9 935.3,1266.2 937.1,1265.5C939,1264.8 940.9,1264.1 942.7,1263.3C944.6,1262.5 946.4,1261.8 948.2,1261C950.1,1260.2 951.9,1259.3 953.7,1258.5C955.6,1257.7 957.4,1256.8 959.2,1255.9C961,1255 962.8,1254.1 964.6,1253.2C966.4,1252.3 968.2,1251.3 970,1250.3C971.8,1249.3 973.6,1248.3 975.3,1247.3C977.1,1246.3 979,1245.1 980.6,1244.2C982.1,1243.2 983.4,1242.4 984.8,1241.4C986.2,1240.5 987.7,1239.5 989,1238.6C990.4,1237.6 991.8,1236.6 993.1,1235.6C994.5,1234.6 995.8,1233.6 997.1,1232.5C998.4,1231.5 999.8,1230.3 1001,1229.3C1002.1,1228.4 1003,1227.6 1003.9,1226.7C1004.9,1225.8 1005.9,1224.9 1006.8,1224C1007.8,1223.1 1008.7,1222.1 1009.6,1221.2C1010.5,1220.2 1011.4,1219.3 1012.3,1218.3C1013.1,1217.3 1014,1216.3 1014.8,1215.3C1015.6,1214.3 1016.4,1213.3 1017.2,1212.3C1018,1211.3 1018.8,1210.2 1019.5,1209.2C1020.2,1208.1 1021,1207 1021.7,1205.9C1022.4,1204.9 1023,1203.9 1023.7,1202.7C1024.5,1201.4 1025.4,1199.9 1026.2,1198.5C1027,1197 1027.7,1195.8 1028.5,1194.2C1029.4,1192.6 1030.2,1190.8 1031.2,1188.9C1032.1,1187 1032.8,1185.6 1034.2,1182.6C1035.6,1179.6 1038,1174.2 1039.6,1170.6C1041.2,1167.1 1042.7,1163.9 1043.9,1161.2C1045.2,1158.6 1046.1,1156.7 1047.1,1154.6C1048.1,1152.6 1049.1,1150.7 1050,1149C1050.9,1147.2 1051.7,1145.8 1052.5,1144.3C1053.4,1142.7 1054.3,1141.1 1055.3,1139.6C1056.2,1138.1 1057.2,1136.4 1058.1,1135.1C1059,1133.7 1059.7,1132.7 1060.5,1131.6C1061.3,1130.4 1062.2,1129.3 1063,1128.2C1063.9,1127.1 1064.8,1126 1065.6,1125C1066.5,1123.9 1067.5,1122.8 1068.3,1122C1069.1,1121.1 1069.7,1120.6 1070.4,1119.9C1071.2,1119.2 1071.9,1118.6 1072.6,1117.9C1073.3,1117.3 1074.1,1116.7 1074.8,1116.1C1075.6,1115.6 1076.3,1115 1077.1,1114.5C1077.9,1114 1078.6,1113.5 1079.4,1113.1C1080.2,1112.6 1081,1112.2 1081.8,1111.8C1082.6,1111.4 1083.4,1111.1 1084.3,1110.8C1085.1,1110.5 1085.9,1110.2 1086.8,1110C1087.6,1109.7 1088.5,1109.5 1089.3,1109.4C1090.2,1109.2 1091.1,1109.1 1092,1109C1092.8,1108.9 1093.7,1108.9 1094.6,1108.9C1095.5,1108.9 1096.4,1108.9 1097.3,1109C1098.2,1109.1 1099.1,1109.2 1100,1109.3C1100.8,1109.5 1101.7,1109.7 1102.6,1109.9C1103.5,1110.1 1104.4,1110.4 1105.3,1110.6C1106.2,1110.9 1107,1111.3 1107.9,1111.6C1108.8,1112 1109.7,1112.4 1110.5,1112.8C1111.4,1113.2 1112.3,1113.6 1113.1,1114.1C1114,1114.6 1114.9,1115.1 1115.7,1115.6C1116.6,1116.2 1117.3,1116.6 1118.3,1117.3C1119.2,1118 1120.5,1118.8 1121.6,1119.7C1122.7,1120.5 1123.8,1121.4 1124.9,1122.3C1126,1123.2 1126.9,1124 1128.1,1125.1C1129.3,1126.2 1130.7,1127.5 1132,1128.8C1133.3,1130 1134.6,1131.3 1135.8,1132.6C1137.1,1133.9 1138.2,1135.1 1139.5,1136.6C1140.8,1138 1142.3,1139.8 1143.7,1141.4C1145.1,1143 1146.3,1144.4 1147.7,1146.2C1149.1,1147.9 1150.7,1149.9 1152.2,1151.8C1153.6,1153.6 1154.9,1155.4 1156.4,1157.4C1157.9,1159.4 1159.2,1161.1 1161.1,1163.8C1163.1,1166.4 1165.4,1169.8 1168,1173.4C1170.5,1177 1174.2,1182.3 1176.4,1185.3C1178.6,1188.4 1179.5,1189.7 1181,1191.7C1182.4,1193.6 1183.7,1195.3 1185.1,1197.2C1186.5,1199 1188,1200.8 1189.4,1202.7C1190.9,1204.5 1192.5,1206.4 1193.9,1208.1C1195.3,1209.7 1196.5,1211.1 1197.8,1212.7C1199.1,1214.2 1200.5,1215.7 1201.9,1217.2C1203.2,1218.7 1204.6,1220.1 1206,1221.6C1207.4,1223 1208.9,1224.5 1210.3,1225.9C1211.7,1227.3 1213.3,1228.8 1214.7,1230.1C1216,1231.4 1217.2,1232.4 1218.4,1233.5C1219.7,1234.6 1221,1235.7 1222.2,1236.8C1223.5,1237.8 1224.8,1238.9 1226.1,1239.9C1227.5,1241 1228.8,1242 1230.1,1243C1231.5,1244 1232.8,1244.9 1234.2,1245.9C1235.5,1246.8 1236.9,1247.8 1238.3,1248.7C1239.7,1249.6 1241.1,1250.4 1242.5,1251.3C1243.9,1252.1 1245.5,1253 1246.8,1253.8C1248.1,1254.5 1249.1,1255 1250.3,1255.6C1251.5,1256.2 1252.6,1256.8 1253.8,1257.4C1255,1257.9 1256.2,1258.5 1257.4,1259C1258.6,1259.5 1259.8,1260 1261.1,1260.5C1262.3,1261 1263.5,1261.4 1264.7,1261.9C1266,1262.3 1267.1,1262.7 1268.5,1263.1C1269.9,1263.6 1271.6,1264.1 1273.2,1264.6C1274.8,1265 1276.4,1265.4 1278,1265.8C1279.6,1266.2 1281.2,1266.6 1282.8,1267C1284.5,1267.3 1285.9,1267.6 1287.7,1268C1289.5,1268.3 1291.7,1268.7 1293.7,1269C1295.6,1269.3 1297.5,1269.6 1299.6,1269.9C1301.8,1270.2 1304.2,1270.5 1306.7,1270.8C1309.2,1271.1 1311.5,1271.4 1314.7,1271.7C1317.9,1272 1320.7,1272.2 1325.9,1272.7C1331.1,1273.1 1339.3,1273.8 1346.1,1274.3C1352.8,1274.9 1359.6,1275.4 1366.1,1275.9C1372.6,1276.3 1379,1276.8 1385.1,1277.2C1391.3,1277.6 1397.1,1277.9 1403,1278.3C1409,1278.6 1415,1279 1421,1279.3C1426.9,1279.6 1433,1279.9 1438.9,1280.1C1444.7,1280.4 1450,1280.6 1455.8,1280.8C1461.6,1281 1467.7,1281.2 1473.7,1281.4C1479.7,1281.6 1485.5,1281.7 1491.6,1281.9C1497.8,1282 1504.1,1282.1 1510.6,1282.2C1517.1,1282.3 1523.6,1282.4 1530.6,1282.5C1537.6,1282.5 1545.1,1282.6 1552.6,1282.6C1560.1,1282.6 1567.4,1282.6 1575.6,1282.6C1583.8,1282.6 1592.3,1282.5 1601.6,1282.5C1611,1282.4 1620.4,1282.3 1631.7,1282.2C1643.1,1282.1 1656.8,1281.9 1669.8,1281.7C1682.8,1281.5 1696.6,1281.3 1709.9,1281C1723.3,1280.8 1737.8,1280.6 1750,1280.5C1762.2,1280.3 1772.9,1280.2 1783.1,1280.1C1793.2,1280 1802.4,1279.9 1811.1,1279.8C1819.8,1279.8 1827.4,1279.8 1835.1,1279.8C1842.7,1279.8 1849.9,1279.8 1857,1279.8C1864.2,1279.9 1872,1280 1878,1280C1884,1280.1 1890.4,1280.2 1892.9,1280.2"/>
<path d="M283.1,1287.4C286.5,1287.4 296.7,1287.4 304,1287.5C311.3,1287.5 319,1287.6 327,1287.7C335,1287.8 343.1,1287.9 352,1288.1C360.8,1288.3 369.4,1288.5 379.9,1288.7C390.4,1288.9 402.4,1289.2 415,1289.6C427.5,1289.9 441.6,1290.3 455,1290.7C468.3,1291 482.7,1291.5 495,1291.8C507.4,1292.1 518.7,1292.4 529.1,1292.6C539.4,1292.9 548.3,1293 557.1,1293.2C566,1293.4 574.3,1293.5 582.2,1293.6C590,1293.7 597,1293.7 604.2,1293.8C611.4,1293.9 618.4,1293.9 625.2,1293.9C632.1,1293.9 638.7,1293.9 645.2,1293.8C651.7,1293.8 658.1,1293.7 664.2,1293.7C670.4,1293.6 676.4,1293.5 682.2,1293.4C688.1,1293.3 693.6,1293.1 699.2,1293C704.9,1292.8 710.7,1292.6 716.2,1292.4C721.7,1292.2 726.9,1292 732.2,1291.8C737.5,1291.6 743,1291.3 748.2,1291.1C753.3,1290.8 758.2,1290.5 763.2,1290.2C768.1,1289.9 773.1,1289.6 778.1,1289.3C783.1,1288.9 788.3,1288.5 793.1,1288.2C797.9,1287.8 802.4,1287.4 807,1287C811.7,1286.6 816.3,1286.2 821,1285.7C825.6,1285.3 830.3,1284.8 834.9,1284.3C839.6,1283.8 844.7,1283.3 848.8,1282.8C853,1282.3 856.6,1281.8 859.8,1281.4C862.9,1281 865.2,1280.7 867.7,1280.4C870.2,1280 872.5,1279.6 874.6,1279.3C876.7,1278.9 878.5,1278.6 880.5,1278.2C882.4,1277.9 884.4,1277.5 886.3,1277C888.3,1276.6 890.4,1276.1 892.1,1275.7C893.9,1275.3 895.3,1274.9 896.9,1274.5C898.5,1274 900.1,1273.6 901.7,1273.1C903.3,1272.6 904.8,1272.1 906.4,1271.6C908,1271 909.5,1270.5 911,1269.9C912.6,1269.3 914.3,1268.6 915.7,1268C917,1267.4 917.9,1267 919.3,1266.4C920.7,1265.8 922.3,1265 923.8,1264.2C925.3,1263.5 926.8,1262.7 928.2,1261.9C929.7,1261.1 931.2,1260.2 932.6,1259.4C934.1,1258.5 935.5,1257.6 936.9,1256.7C938.4,1255.8 939.8,1254.9 941.2,1253.9C942.6,1253 944,1252 945.3,1251C946.7,1250 948.1,1249 949.4,1247.9C950.8,1246.9 952,1246 953.4,1244.8C954.9,1243.6 956.6,1242.2 958.1,1240.9C959.7,1239.6 961.2,1238.2 962.7,1236.8C964.2,1235.5 965.7,1234.1 967.2,1232.7C968.6,1231.3 970.1,1229.9 971.5,1228.4C972.9,1227 974.3,1225.6 975.7,1224.1C977.1,1222.6 978.4,1221.1 979.8,1219.6C981.1,1218.1 982.4,1216.6 983.7,1215.1C985,1213.5 986.2,1212 987.5,1210.4C988.7,1208.8 990,1207.3 991.2,1205.7C992.3,1204.1 993.5,1202.5 994.7,1200.8C995.8,1199.2 996.9,1197.6 998.1,1195.9C999.2,1194.3 1000.2,1192.6 1001.3,1190.9C1002.3,1189.2 1003.4,1187.5 1004.4,1185.8C1005.4,1184.1 1006.4,1182.4 1007.3,1180.7C1008.3,1178.9 1009.2,1177.2 1010.1,1175.4C1011,1173.7 1011.9,1171.9 1012.8,1170.2C1013.6,1168.4 1014.5,1166.6 1015.3,1164.8C1016.1,1163 1016.8,1161.2 1017.6,1159.4C1018.4,1157.6 1019.1,1155.7 1019.8,1153.9C1020.5,1152.1 1021.2,1150.2 1021.9,1148.4C1022.6,1146.5 1023.2,1144.8 1023.9,1142.8C1024.6,1140.8 1025.3,1138.4 1026,1136.2C1026.7,1134 1027.4,1132 1028.1,1129.6C1028.8,1127.2 1029.5,1124.7 1030.3,1121.9C1031,1119.2 1031.8,1116.3 1032.6,1113.3C1033.4,1110.2 1034.2,1107.2 1035,1103.6C1035.9,1100 1036.5,1097.6 1037.8,1091.9C1039.1,1086.2 1041.6,1075.2 1043,1069.3C1044.3,1063.4 1045.1,1060.3 1046,1056.6C1046.9,1052.8 1047.6,1049.9 1048.4,1046.8C1049.2,1043.7 1050,1040.8 1050.8,1038C1051.5,1035.2 1052.2,1032.7 1053,1030.2C1053.7,1027.8 1054.3,1025.7 1055,1023.5C1055.7,1021.2 1056.4,1019 1057.2,1016.8C1057.9,1014.6 1058.7,1012.2 1059.5,1010.1C1060.2,1008.1 1060.9,1006.2 1061.6,1004.4C1062.3,1002.7 1062.9,1001.2 1063.5,999.8C1064.1,998.4 1064.6,997.3 1065.2,996.1C1065.7,994.9 1066.4,993.6 1067,992.6C1067.5,991.5 1067.9,990.8 1068.5,989.9C1069,989.1 1069.5,988.2 1070.1,987.4C1070.6,986.6 1071.2,985.8 1071.8,985C1072.4,984.2 1073.1,983.4 1073.7,982.6C1074.4,981.8 1075.1,981.1 1075.8,980.4C1076.5,979.6 1077.3,978.9 1078.1,978.3C1078.8,977.7 1079.6,977.2 1080.4,976.7C1081.2,976.2 1082.1,975.8 1082.9,975.6C1083.8,975.3 1084.7,975.2 1085.5,975.2C1086.4,975.2 1087.3,975.3 1088.2,975.5C1089.1,975.8 1090,976.1 1090.9,976.6C1091.7,977 1092.6,977.6 1093.4,978.1C1094.3,978.7 1095.1,979.4 1095.9,980.1C1096.6,980.8 1097.4,981.5 1098.1,982.3C1098.7,983 1099.4,983.8 1100,984.6C1100.7,985.5 1101.1,986.1 1101.8,987.1C1102.5,988.1 1102.9,988.7 1104.1,990.5C1105.2,992.4 1107.3,995.7 1108.9,998.3C1110.4,1000.9 1112,1003.6 1113.5,1006.2C1115,1008.8 1116.5,1011.4 1118,1014.1C1119.5,1016.7 1121,1019.3 1122.4,1022C1123.8,1024.6 1125.2,1027.3 1126.6,1030C1128,1032.6 1129.4,1035.3 1130.7,1038C1132.1,1040.7 1133.4,1043.4 1134.7,1046.1C1136,1048.8 1137.3,1051.5 1138.5,1054.2C1139.8,1056.9 1140.9,1059.5 1142.2,1062.4C1143.5,1065.3 1144.6,1067.9 1146.2,1071.5C1147.7,1075.2 1149.4,1079.2 1151.5,1084.4C1153.7,1089.6 1157.2,1098 1159.2,1102.8C1161.2,1107.5 1162.2,1109.8 1163.5,1112.8C1164.8,1115.8 1166,1118.4 1167.1,1121C1168.3,1123.5 1169.4,1125.9 1170.5,1128.2C1171.6,1130.4 1172.5,1132.3 1173.6,1134.4C1174.6,1136.5 1175.7,1138.7 1176.7,1140.6C1177.7,1142.5 1178.6,1144.1 1179.6,1145.8C1180.6,1147.5 1181.5,1149.3 1182.6,1151C1183.6,1152.7 1184.6,1154.4 1185.7,1156.1C1186.7,1157.8 1187.8,1159.5 1188.9,1161.1C1190,1162.8 1191.1,1164.5 1192.3,1166.1C1193.4,1167.8 1194.6,1169.4 1195.8,1171C1197,1172.6 1198.2,1174.2 1199.4,1175.8C1200.6,1177.4 1201.9,1179 1203.1,1180.6C1204.4,1182.2 1205.7,1183.7 1207,1185.2C1208.3,1186.8 1209.7,1188.3 1211,1189.8C1212.4,1191.3 1213.7,1192.8 1215.1,1194.3C1216.5,1195.8 1217.9,1197.2 1219.3,1198.7C1220.7,1200.1 1222.2,1201.6 1223.6,1203C1225.1,1204.4 1226.6,1205.8 1228.1,1207.2C1229.5,1208.5 1231,1209.9 1232.6,1211.2C1234.1,1212.6 1235.6,1213.9 1237.2,1215.2C1238.7,1216.5 1240.3,1217.8 1241.9,1219.1C1243.5,1220.3 1245.1,1221.6 1246.7,1222.8C1248.3,1224 1249.9,1225.2 1251.5,1226.4C1253.2,1227.6 1254.8,1228.8 1256.5,1229.9C1258.1,1231.1 1259.8,1232.2 1261.5,1233.3C1263.2,1234.4 1264.9,1235.5 1266.6,1236.5C1268.3,1237.6 1270,1238.6 1271.8,1239.6C1273.5,1240.7 1275.2,1241.6 1277,1242.6C1278.8,1243.6 1280.5,1244.5 1282.3,1245.4C1284.1,1246.4 1285.8,1247.3 1287.6,1248.1C1289.4,1249 1291.2,1249.8 1293,1250.7C1294.8,1251.5 1296.7,1252.3 1298.5,1253C1300.3,1253.8 1302.2,1254.6 1304,1255.3C1305.8,1256 1307.7,1256.7 1309.5,1257.4C1311.4,1258.1 1313.3,1258.7 1315.1,1259.4C1317,1260 1318.9,1260.6 1320.8,1261.2C1322.6,1261.8 1324.5,1262.4 1326.4,1262.9C1328.3,1263.5 1330.1,1264 1332.1,1264.5C1334.2,1265.1 1336.6,1265.7 1338.9,1266.3C1341.1,1266.8 1343.3,1267.3 1345.6,1267.8C1347.9,1268.3 1350.1,1268.8 1352.4,1269.3C1354.7,1269.7 1357,1270.1 1359.2,1270.5C1361.5,1271 1363.6,1271.3 1366.1,1271.7C1368.6,1272.1 1371.4,1272.5 1374,1272.9C1376.6,1273.3 1379.3,1273.6 1381.9,1273.9C1384.6,1274.2 1387.1,1274.5 1389.9,1274.8C1392.7,1275.1 1395.9,1275.4 1398.9,1275.7C1401.9,1276 1404.7,1276.2 1407.9,1276.4C1411.1,1276.6 1414.6,1276.9 1417.9,1277.1C1421.3,1277.3 1424.3,1277.4 1428,1277.6C1431.6,1277.7 1435.8,1277.9 1440,1278.1C1444.2,1278.2 1448.7,1278.3 1453.1,1278.4C1457.4,1278.5 1461.8,1278.6 1466.1,1278.6C1470.5,1278.7 1474.7,1278.7 1479.2,1278.7C1483.7,1278.7 1488.5,1278.7 1493.2,1278.7C1497.9,1278.7 1502.4,1278.6 1507.2,1278.5C1512.1,1278.4 1517.1,1278.3 1522.2,1278.2C1527.4,1278.1 1532.7,1277.9 1538.2,1277.7C1543.7,1277.5 1549.4,1277.3 1555.2,1277.1C1561.1,1276.8 1566.7,1276.6 1573.2,1276.3C1579.7,1276 1586.5,1275.6 1594.2,1275.2C1601.8,1274.8 1609,1274.4 1619.1,1273.7C1629.3,1273.1 1642.9,1272.3 1655,1271.5C1667.2,1270.8 1681.5,1269.8 1691.9,1269.2C1702.4,1268.6 1710.1,1268.1 1717.9,1267.7C1725.7,1267.3 1732.2,1266.9 1738.8,1266.6C1745.5,1266.3 1751.8,1266 1757.8,1265.7C1763.8,1265.4 1769.3,1265.2 1774.8,1265C1780.3,1264.9 1785.6,1264.7 1790.8,1264.5C1796,1264.4 1801,1264.3 1805.8,1264.2C1810.7,1264.1 1815.2,1264.1 1819.8,1264C1824.5,1264 1829.4,1263.9 1833.9,1263.9C1838.4,1263.9 1842.5,1264 1846.9,1264C1851.2,1264.1 1855.6,1264.1 1859.9,1264.2C1864.3,1264.3 1868.8,1264.4 1873,1264.5C1877.2,1264.7 1881.7,1264.8 1885.1,1265C1888.4,1265.1 1891.8,1265.3 1893.1,1265.4"/>
<path d="M283,1284.8C289.7,1285 309.7,1285.6 323,1285.9C336.3,1286.3 349.6,1286.7 363,1287C376.3,1287.3 390,1287.7 403,1287.9C416,1288.2 428.7,1288.5 441,1288.7C453.3,1288.9 465.4,1289.1 477,1289.3C488.7,1289.5 499.9,1289.6 511.1,1289.8C522.3,1289.9 533.3,1290 544.1,1290.1C555,1290.2 565.6,1290.2 576.1,1290.3C586.7,1290.3 597,1290.3 607.2,1290.3C617.3,1290.3 627.3,1290.3 637.2,1290.3C647,1290.2 656.5,1290.2 666.1,1290.1C675.8,1290 685.8,1289.9 695.1,1289.8C704.4,1289.6 713.5,1289.5 722,1289.3C730.5,1289.2 738.3,1289 746,1288.8C753.7,1288.7 760.8,1288.5 768,1288.3C775.2,1288.1 782.5,1287.8 789.1,1287.6C795.6,1287.4 802.5,1287.1 807.2,1286.9C811.9,1286.7 814.2,1286.6 817.3,1286.4C820.3,1286.2 822.8,1286.1 825.3,1285.9C827.8,1285.7 830,1285.5 832.3,1285.3C834.7,1285.1 837.2,1284.8 839.3,1284.6C841.5,1284.3 843.3,1284.1 845.3,1283.8C847.3,1283.5 849.4,1283.2 851.2,1282.9C853,1282.6 854.5,1282.4 856.1,1282C857.8,1281.7 859.4,1281.4 861,1281C862.6,1280.7 864.3,1280.3 865.9,1279.9C867.5,1279.5 869.1,1279.1 870.7,1278.6C872.3,1278.2 873.9,1277.7 875.5,1277.2C877,1276.7 878.6,1276.2 880.2,1275.6C881.7,1275 883.3,1274.5 884.8,1273.9C886.4,1273.3 887.9,1272.6 889.4,1272C890.9,1271.3 892.6,1270.5 893.9,1269.9C895.3,1269.3 896.3,1268.8 897.4,1268.1C898.6,1267.5 899.8,1266.9 900.9,1266.3C902.1,1265.6 903.2,1265 904.3,1264.3C905.5,1263.6 906.6,1262.9 907.7,1262.2C908.8,1261.5 909.9,1260.8 910.9,1260C912,1259.2 913.1,1258.5 914.1,1257.7C915.1,1256.9 916.2,1256.1 917.2,1255.2C918.2,1254.4 919.2,1253.6 920.2,1252.7C921.2,1251.8 922.2,1250.9 923.1,1250C924.1,1249.1 925,1248.2 925.9,1247.2C926.9,1246.3 927.8,1245.3 928.7,1244.3C929.6,1243.4 930.3,1242.5 931.3,1241.4C932.3,1240.2 933.5,1238.8 934.5,1237.5C935.5,1236.2 936.6,1234.9 937.6,1233.5C938.6,1232.2 939.6,1230.8 940.5,1229.4C941.5,1228 942.4,1226.6 943.4,1225.2C944.3,1223.8 945.1,1222.5 946.1,1220.9C947.1,1219.3 948.2,1217.4 949.2,1215.6C950.3,1213.9 951.3,1212.1 952.2,1210.3C953.2,1208.5 954.1,1206.8 955.1,1204.9C956.1,1202.9 957.3,1200.6 958.3,1198.5C959.3,1196.4 960.4,1194.2 961.3,1192.1C962.3,1189.9 963.3,1187.8 964.2,1185.6C965.2,1183.5 966.1,1181.3 967,1179.1C967.9,1177 968.7,1174.8 969.6,1172.6C970.4,1170.4 971.2,1168.4 972.1,1166.1C972.9,1163.7 973.9,1161 974.7,1158.5C975.6,1156 976.5,1153.5 977.3,1151C978.1,1148.4 978.9,1145.9 979.7,1143.4C980.5,1140.8 981.2,1138.5 982,1135.7C982.7,1133 983.6,1130 984.4,1127.1C985.2,1124.3 985.9,1121.5 986.7,1118.5C987.4,1115.4 988.2,1112.2 989.1,1108.8C989.9,1105.5 990.7,1101.9 991.6,1098.2C992.4,1094.5 993.2,1090.8 994.2,1086.5C995.1,1082.3 996.1,1077.6 997,1072.9C998,1068.2 999,1063.2 1000,1058.3C1001,1053.4 1001.9,1048.6 1002.8,1043.6C1003.8,1038.5 1004.8,1033.1 1005.7,1027.9C1006.6,1022.6 1007.5,1017.5 1008.5,1012.1C1009.4,1006.7 1010.3,1001.1 1011.3,995.4C1012.2,989.6 1013.1,983.9 1014.1,977.6C1015.1,971.3 1016.1,964.7 1017.2,957.8C1018.2,950.9 1019.2,943.7 1020.4,936C1021.5,928.2 1022.6,920.4 1023.8,911.1C1025.1,901.9 1026.5,892.1 1028,880.3C1029.6,868.5 1031.6,853.4 1033.3,840.5C1035.1,827.6 1036.9,813.7 1038.4,802.7C1039.9,791.8 1041,783.4 1042.2,774.9C1043.4,766.5 1044.4,759.4 1045.5,752.1C1046.6,744.9 1047.6,737.9 1048.6,731.3C1049.6,724.8 1050.5,718.7 1051.5,712.6C1052.5,706.5 1053.4,700.6 1054.4,694.9C1055.4,689.1 1056.3,683.6 1057.3,678.2C1058.2,672.8 1059.1,667.5 1060.1,662.5C1061,657.4 1061.9,652.7 1062.8,647.8C1063.7,642.9 1064.7,637.9 1065.7,633.2C1066.6,628.5 1067.6,624 1068.5,619.6C1069.4,615.2 1070.4,610.5 1071.2,607C1072,603.4 1072.5,601 1073.2,598.3C1073.8,595.5 1074.5,592.9 1075.1,590.5C1075.7,588 1076.3,585.9 1076.9,583.6C1077.6,581.3 1078.2,579 1078.9,576.7C1079.6,574.4 1080.4,571.9 1081.1,569.7C1081.8,567.5 1082.6,565.2 1083.1,563.7C1083.7,562.2 1083.9,561.7 1084.3,560.7C1084.7,559.7 1085.1,558.8 1085.6,557.9C1086.1,557 1086.6,556.2 1087.2,555.4C1087.7,554.7 1088.4,554 1089,553.3C1089.7,552.7 1090.5,552.1 1091.3,551.7C1092.1,551.4 1093,551 1093.8,551.1C1094.7,551.1 1095.5,551.4 1096.3,551.8C1097.1,552.2 1097.9,552.8 1098.6,553.4C1099.3,554 1099.9,554.7 1100.4,555.5C1101,556.2 1101.5,557 1102,557.9C1102.5,558.7 1103,559.6 1103.4,560.6C1103.8,561.5 1104,562 1104.6,563.4C1105.1,564.8 1105.9,567 1106.7,569.2C1107.5,571.5 1108.6,574.4 1109.4,577C1110.3,579.6 1111.2,582.2 1112,584.8C1112.8,587.4 1113.6,590 1114.4,592.6C1115.1,595.2 1115.9,597.8 1116.6,600.4C1117.3,603 1118,605.4 1118.7,608.2C1119.4,611 1120.2,614 1120.9,617C1121.7,619.9 1122.3,622.7 1123,625.7C1123.7,628.8 1124.5,632.1 1125.2,635.5C1125.9,638.9 1126.7,642.5 1127.4,646.2C1128.2,650 1128.9,653.7 1129.7,657.9C1130.5,662.2 1131.1,665.6 1132.2,671.6C1133.3,677.6 1134.5,684.1 1136.2,694.1C1137.9,704.1 1140.4,718.6 1142.6,731.4C1144.8,744.2 1147,757.7 1149.2,770.8C1151.4,784 1153.6,797.1 1155.8,810.3C1158,823.5 1160.1,836.7 1162.3,849.9C1164.4,863.1 1166.6,876.3 1168.7,889.5C1170.9,902.7 1173.2,917.2 1175.1,929.1C1177.1,941 1178.9,952.6 1180.3,960.8C1181.6,969 1182.4,973.3 1183.3,978.6C1184.2,983.8 1184.9,988 1185.7,992.4C1186.5,996.8 1187.3,1001.2 1188.1,1005.2C1188.9,1009.1 1189.5,1012.3 1190.2,1015.9C1191,1019.5 1191.8,1023.3 1192.5,1026.7C1193.3,1030.1 1194,1033.2 1194.7,1036.4C1195.5,1039.6 1196.3,1043 1197,1046.1C1197.8,1049.2 1198.5,1051.9 1199.3,1054.8C1200,1057.7 1200.8,1060.5 1201.6,1063.4C1202.4,1066.3 1203.3,1069.3 1204.1,1072C1204.9,1074.7 1205.6,1077.1 1206.4,1079.7C1207.2,1082.2 1208.1,1084.7 1208.9,1087.2C1209.7,1089.8 1210.6,1092.3 1211.5,1094.8C1212.4,1097.3 1213.3,1099.8 1214.2,1102.3C1215.2,1104.8 1216.2,1107.4 1217.1,1109.8C1218.1,1112.1 1218.9,1114.1 1219.8,1116.3C1220.7,1118.4 1221.6,1120.6 1222.6,1122.7C1223.5,1124.9 1224.5,1127 1225.5,1129.2C1226.4,1131.3 1227.5,1133.4 1228.5,1135.6C1229.5,1137.7 1230.6,1139.8 1231.7,1141.9C1232.7,1144 1233.9,1146.2 1235,1148.1C1236,1150.1 1236.9,1151.7 1237.9,1153.4C1239,1155.2 1240,1156.9 1241,1158.7C1242.1,1160.4 1243.1,1162.1 1244.2,1163.8C1245.3,1165.5 1246.4,1167.2 1247.5,1168.9C1248.6,1170.5 1249.8,1172.2 1250.9,1173.8C1252.1,1175.4 1253.4,1177.2 1254.5,1178.6C1255.6,1180.1 1256.5,1181.3 1257.5,1182.6C1258.6,1183.8 1259.6,1185.1 1260.7,1186.4C1261.8,1187.7 1262.8,1188.9 1263.9,1190.1C1265,1191.4 1266.2,1192.6 1267.3,1193.8C1268.4,1195 1269.6,1196.2 1270.7,1197.3C1271.9,1198.5 1273.1,1199.6 1274.2,1200.7C1275.4,1201.9 1276.7,1203 1277.9,1204C1279.1,1205.1 1280.3,1206.2 1281.6,1207.2C1282.9,1208.3 1284.1,1209.3 1285.4,1210.3C1286.7,1211.3 1288,1212.3 1289.4,1213.2C1290.7,1214.2 1292,1215.1 1293.4,1216C1294.7,1217 1296.1,1217.9 1297.5,1218.8C1298.8,1219.7 1300.2,1220.5 1301.6,1221.4C1303,1222.2 1304.5,1223.1 1305.9,1223.9C1307.3,1224.7 1308.8,1225.5 1310.2,1226.3C1311.7,1227 1313,1227.7 1314.6,1228.5C1316.3,1229.4 1318.2,1230.3 1320,1231.2C1321.8,1232 1323.6,1232.8 1325.4,1233.6C1327.3,1234.4 1329.1,1235.2 1331,1236C1332.8,1236.7 1334.7,1237.4 1336.6,1238.1C1338.5,1238.9 1340.4,1239.5 1342.3,1240.2C1344.2,1240.9 1346.1,1241.5 1348,1242.1C1349.9,1242.8 1351.7,1243.3 1353.8,1244C1355.9,1244.6 1358.4,1245.3 1360.6,1245.9C1362.9,1246.6 1365.2,1247.2 1367.5,1247.7C1369.8,1248.3 1372.1,1248.9 1374.4,1249.4C1376.8,1249.9 1379.1,1250.4 1381.4,1250.9C1383.7,1251.4 1386.1,1251.9 1388.4,1252.3C1390.7,1252.7 1392.9,1253.1 1395.4,1253.5C1397.9,1254 1400.8,1254.4 1403.4,1254.8C1406.1,1255.2 1408.8,1255.6 1411.4,1255.9C1414.1,1256.3 1416.8,1256.6 1419.4,1256.9C1422.1,1257.2 1424.6,1257.5 1427.4,1257.7C1430.2,1258 1433.4,1258.3 1436.4,1258.5C1439.4,1258.8 1442.3,1259 1445.3,1259.2C1448.3,1259.3 1451.1,1259.5 1454.3,1259.7C1457.4,1259.8 1460.7,1260 1464.2,1260.1C1467.7,1260.2 1471.3,1260.3 1475.1,1260.4C1478.9,1260.5 1482.9,1260.6 1487,1260.6C1491.1,1260.7 1494.9,1260.7 1499.9,1260.7C1504.9,1260.7 1508.8,1260.7 1516.8,1260.7C1524.7,1260.6 1537.5,1260.5 1547.6,1260.5C1557.7,1260.4 1567,1260.4 1577.5,1260.3C1588,1260.3 1598.5,1260.3 1610.5,1260.4C1622.5,1260.4 1636.4,1260.4 1649.6,1260.5C1662.8,1260.6 1676.4,1260.7 1689.8,1260.8C1703.2,1260.9 1716.6,1261 1730,1261.1C1743.4,1261.2 1756.8,1261.3 1770.1,1261.4C1783.5,1261.4 1797.7,1261.5 1810.2,1261.6C1822.7,1261.6 1834.2,1261.6 1845.2,1261.6C1856.2,1261.6 1868.1,1261.6 1876,1261.6C1884,1261.6 1890.1,1261.5 1892.9,1261.5"/>
<path d="M282.9,1283C289.6,1283.1 309.7,1283.5 323,1283.8C336.4,1284.1 349.7,1284.5 363.1,1284.8C376.4,1285.1 389.7,1285.4 403.1,1285.7C416.4,1286 429.9,1286.2 443,1286.5C456.2,1286.7 469.9,1287 482,1287.2C494.2,1287.4 505.2,1287.6 516,1287.7C526.8,1287.8 537,1287.9 547,1288C557,1288.1 566.6,1288.2 576,1288.2C585.3,1288.3 594.1,1288.3 603,1288.3C611.8,1288.3 620.5,1288.2 629,1288.2C637.5,1288.2 645.8,1288.1 654,1288C662.2,1287.9 670.2,1287.8 678.1,1287.7C685.9,1287.6 693.6,1287.4 701.1,1287.3C708.6,1287.1 715.8,1286.9 723.2,1286.7C730.6,1286.5 738.4,1286.3 745.3,1286.1C752.1,1285.8 759.7,1285.6 764.4,1285.4C769.1,1285.2 770.7,1285.1 773.4,1285C776.1,1284.8 778.2,1284.7 780.4,1284.5C782.6,1284.4 784.5,1284.2 786.3,1284C788.2,1283.8 789.6,1283.7 791.3,1283.4C792.9,1283.2 794.5,1283 796.2,1282.8C797.8,1282.5 799.6,1282.2 801,1281.9C802.5,1281.6 803.6,1281.4 804.8,1281.1C806.1,1280.8 807.4,1280.5 808.6,1280.2C809.9,1279.9 811.2,1279.5 812.4,1279.2C813.7,1278.8 814.9,1278.4 816.1,1278C817.4,1277.6 818.6,1277.1 819.8,1276.6C821,1276.2 822.2,1275.7 823.4,1275.1C824.6,1274.6 825.8,1274.1 827,1273.5C828.2,1272.9 829.4,1272.3 830.5,1271.7C831.7,1271 832.8,1270.4 834,1269.7C835.1,1269 836.1,1268.4 837.4,1267.6C838.7,1266.8 840.2,1265.7 841.6,1264.8C843,1263.8 844.3,1263 845.8,1261.8C847.3,1260.7 849.1,1259.4 850.7,1258.1C852.3,1256.9 853.8,1255.7 855.5,1254.3C857.2,1252.9 859.2,1251.3 861,1249.7C862.8,1248.2 864.6,1246.7 866.4,1245.1C868.1,1243.5 869.9,1241.9 871.6,1240.3C873.4,1238.7 875.1,1237.1 876.8,1235.5C878.5,1233.9 880.3,1232.1 881.8,1230.6C883.3,1229 884.6,1227.7 886,1226.2C887.4,1224.8 888.7,1223.3 890.1,1221.9C891.4,1220.4 892.8,1218.9 894.1,1217.4C895.4,1215.9 896.7,1214.4 897.9,1212.9C899.2,1211.3 900.5,1209.8 901.7,1208.2C902.9,1206.7 904.1,1205.1 905.3,1203.5C906.5,1202 907.7,1200.4 908.8,1198.7C910,1197.1 911.1,1195.5 912.2,1193.9C913.3,1192.2 914.4,1190.6 915.4,1188.9C916.5,1187.3 917.5,1185.6 918.6,1183.9C919.6,1182.2 920.6,1180.5 921.5,1178.7C922.5,1177 923.4,1175.3 924.3,1173.5C925.3,1171.8 926.2,1170 927,1168.2C927.9,1166.4 928.8,1164.7 929.6,1162.9C930.5,1161 931.2,1159.4 932.1,1157.4C933,1155.4 933.9,1153.1 934.8,1151C935.7,1148.8 936.5,1146.8 937.4,1144.5C938.4,1142.1 939.4,1139.5 940.3,1137C941.2,1134.5 942.1,1132.1 943,1129.4C944,1126.7 944.9,1124 946,1120.8C947.1,1117.6 948.2,1114.1 949.4,1110.3C950.7,1106.5 952.1,1102 953.4,1097.8C954.7,1093.6 956,1089.5 957.2,1085.3C958.5,1081.1 959.7,1077 960.9,1072.8C962.2,1068.6 963.3,1064.4 964.5,1060.2C965.7,1056 966.8,1052 968,1047.7C969.1,1043.3 970.4,1038.6 971.5,1034.1C972.7,1029.6 973.9,1025 975,1020.5C976.1,1016 977.2,1011.4 978.3,1006.9C979.4,1002.4 980.4,997.8 981.5,993.3C982.5,988.7 983.5,984.3 984.5,979.6C985.6,974.9 986.7,969.8 987.7,965C988.7,960.1 989.7,955.2 990.7,950.3C991.7,945.4 992.6,940.5 993.6,935.6C994.5,930.7 995.4,925.9 996.3,920.9C997.3,915.8 998.2,910.4 999.2,905.1C1000.1,899.9 1001,894.6 1001.8,889.4C1002.7,884.1 1003.5,879 1004.4,873.6C1005.3,868.2 1006.1,862.4 1007,856.8C1007.8,851.2 1008.6,845.8 1009.4,840C1010.3,834.3 1011.1,828.2 1011.9,822.2C1012.7,816.3 1013.5,810.5 1014.3,804.4C1015,798.3 1015.8,792 1016.6,785.5C1017.4,779.1 1018.2,772.5 1018.9,765.7C1019.7,758.9 1020.5,751.9 1021.3,744.8C1022,737.7 1022.8,730.4 1023.6,722.9C1024.3,715.5 1025.1,708 1025.8,700C1026.6,692.1 1027.4,683.9 1028.2,675.1C1029,666.3 1029.8,657.2 1030.6,647.2C1031.5,637.2 1032.4,627.1 1033.3,615.3C1034.3,603.5 1035.4,589.5 1036.5,576.4C1037.5,563.2 1038.6,549.7 1039.6,536.4C1040.7,523.1 1041.8,509 1042.8,496.6C1043.8,484.1 1044.8,472 1045.6,461.7C1046.5,451.4 1047.2,443.3 1048,434.8C1048.7,426.3 1049.4,418.5 1050.1,410.9C1050.8,403.3 1051.6,396 1052.2,389C1052.9,382 1053.6,375.6 1054.3,369.1C1055,362.6 1055.7,356.3 1056.4,350.2C1057.1,344 1057.7,338.2 1058.5,332.2C1059.2,326.3 1059.9,320.1 1060.7,314.3C1061.4,308.5 1062.2,303.1 1062.9,297.4C1063.7,291.8 1064.5,286.2 1065.3,280.6C1066.1,275 1066.9,269.2 1067.7,263.8C1068.6,258.3 1069.4,252.8 1070.2,248C1071,243.3 1071.6,239.2 1072.3,235.2C1073,231.3 1073.6,227.9 1074.2,224.5C1074.8,221 1075.4,217.8 1076,214.7C1076.7,211.6 1077.2,208.8 1077.8,205.9C1078.5,203 1079.2,199.9 1079.8,197.1C1080.4,194.3 1081.1,191.4 1081.7,189.3C1082.2,187.1 1082.6,185.7 1082.9,184.4C1083.3,183.1 1083.5,182.4 1083.9,181.4C1084.4,180.4 1084.8,179.4 1085.4,178.4C1086,177.4 1086.8,176.3 1087.5,175.5C1088.3,174.8 1089.1,174 1089.9,173.7C1090.6,173.4 1091.4,173.4 1092.1,173.5C1092.8,173.7 1093.5,174.2 1094.2,174.7C1094.8,175.3 1095.5,176.1 1096.1,176.8C1096.7,177.6 1097.3,178.5 1097.9,179.4C1098.4,180.2 1099,181.1 1099.5,182C1100,182.8 1100.5,183.7 1101,184.6C1101.4,185.5 1101.8,186.3 1102.3,187.3C1102.8,188.4 1103.5,189.7 1104,191C1104.5,192.2 1105,193.4 1105.4,194.7C1105.9,195.9 1106.3,197.2 1106.7,198.5C1107.1,199.7 1107.4,200.8 1107.9,202.3C1108.3,203.7 1108.7,205.5 1109.1,207.1C1109.5,208.7 1109.8,210 1110.2,212C1110.7,213.9 1110.7,213.9 1111.6,218.9C1112.6,223.8 1114.4,233.4 1115.9,241.6C1117.5,249.8 1119.2,259.5 1120.8,268.2C1122.4,277 1123.9,285.5 1125.4,293.9C1126.9,302.3 1128.3,310.5 1129.7,318.6C1131.1,326.6 1132.4,334.5 1133.7,342.3C1135,350 1136.2,357.6 1137.4,365C1138.6,372.4 1139.7,379.5 1140.9,386.7C1142,394 1143.1,401.4 1144.2,408.5C1145.2,415.5 1146.2,422.3 1147.2,429.2C1148.2,436.2 1149.1,442.9 1150.1,450C1151.1,457.1 1152,464.2 1153,471.8C1154,479.4 1155,487.4 1156,495.6C1157.1,503.9 1158.1,512.3 1159.2,521.4C1160.3,530.5 1161.3,539.5 1162.6,550.2C1163.8,561 1165.2,573.4 1166.7,586C1168.1,598.6 1169.6,612.5 1171.1,625.8C1172.5,639 1174,652.6 1175.5,665.5C1176.9,678.5 1178.5,692 1179.7,703.3C1181,714.6 1182.1,723.7 1183.2,733.1C1184.3,742.5 1185.4,751.5 1186.5,759.9C1187.5,768.4 1188.5,776.1 1189.5,783.7C1190.5,791.3 1191.4,798.4 1192.4,805.5C1193.3,812.6 1194.3,819.6 1195.2,826.3C1196.2,833.1 1197.1,839.7 1198.1,846.1C1199,852.6 1200,858.8 1200.9,864.9C1201.9,871 1202.8,876.8 1203.7,882.7C1204.7,888.6 1205.7,894.7 1206.7,900.5C1207.6,906.2 1208.6,911.6 1209.6,917.2C1210.6,922.8 1211.6,928.5 1212.6,934C1213.6,939.4 1214.6,944.4 1215.6,949.7C1216.6,954.9 1217.6,960.2 1218.7,965.4C1219.7,970.6 1220.8,976 1221.9,981.1C1223,986.2 1224,990.9 1225,995.8C1226.1,1000.7 1227.2,1005.6 1228.3,1010.5C1229.4,1015.4 1230.6,1020.3 1231.7,1025.2C1232.9,1030 1234.1,1035.1 1235.3,1039.8C1236.5,1044.5 1237.6,1048.9 1238.7,1053.4C1239.9,1058 1241.1,1062.5 1242.3,1067.1C1243.5,1071.6 1244.8,1076.3 1246,1080.7C1247.2,1085.1 1248.5,1089.6 1249.6,1093.3C1250.7,1097 1251.6,1100.1 1252.5,1103C1253.3,1105.9 1254.1,1108.3 1254.9,1110.7C1255.6,1113 1256.3,1115.1 1257.1,1117.3C1257.8,1119.5 1258.7,1121.9 1259.4,1123.9C1260.1,1125.9 1260.8,1127.6 1261.5,1129.5C1262.2,1131.3 1263,1133.2 1263.7,1135C1264.5,1136.8 1265.2,1138.6 1266,1140.4C1266.8,1142.2 1267.7,1144.1 1268.5,1145.7C1269.3,1147.4 1269.9,1148.7 1270.7,1150.1C1271.4,1151.6 1272.2,1153 1272.9,1154.4C1273.7,1155.8 1274.5,1157.3 1275.3,1158.6C1276.1,1160 1276.9,1161.4 1277.8,1162.8C1278.7,1164.2 1279.5,1165.5 1280.4,1166.8C1281.3,1168.2 1282.2,1169.5 1283.2,1170.8C1284.1,1172.1 1285.2,1173.5 1286.1,1174.7C1287,1175.8 1287.7,1176.7 1288.5,1177.7C1289.3,1178.7 1290.1,1179.6 1291,1180.6C1291.9,1181.6 1292.7,1182.5 1293.6,1183.5C1294.5,1184.4 1295.4,1185.4 1296.3,1186.3C1297.2,1187.2 1298.2,1188.1 1299.1,1189C1300.1,1189.9 1301.1,1190.8 1302.1,1191.7C1303.1,1192.5 1304.1,1193.4 1305.1,1194.2C1306.1,1195 1307.2,1195.9 1308.3,1196.7C1309.3,1197.5 1310.4,1198.3 1311.5,1199.1C1312.7,1199.9 1313.6,1200.5 1314.9,1201.4C1316.2,1202.2 1317.8,1203.2 1319.3,1204.1C1320.8,1205 1322.3,1205.9 1323.9,1206.7C1325.4,1207.6 1326.8,1208.4 1328.5,1209.3C1330.3,1210.2 1332.3,1211.2 1334.3,1212.1C1336.2,1213.1 1338,1213.9 1340.1,1214.9C1342.2,1215.8 1344.2,1216.7 1346.9,1217.9C1349.7,1219.1 1352.8,1220.4 1356.6,1222C1360.4,1223.6 1366.4,1226 1369.8,1227.4C1373.2,1228.8 1374.8,1229.4 1377.1,1230.3C1379.4,1231.2 1381.5,1232 1383.5,1232.7C1385.5,1233.4 1387.1,1234 1389,1234.6C1390.8,1235.2 1392.6,1235.8 1394.5,1236.4C1396.3,1237 1398.2,1237.5 1400.1,1238C1401.9,1238.5 1403.8,1239 1405.7,1239.5C1407.6,1240 1409.5,1240.4 1411.4,1240.9C1413.3,1241.3 1415.2,1241.7 1417.1,1242.1C1419,1242.5 1420.8,1242.9 1422.9,1243.2C1425,1243.6 1427.4,1244 1429.7,1244.4C1432,1244.8 1434.3,1245.1 1436.5,1245.4C1438.8,1245.8 1441,1246.1 1443.4,1246.4C1445.9,1246.7 1448.7,1247 1451.4,1247.2C1454,1247.5 1456.5,1247.8 1459.4,1248C1462.2,1248.2 1465.2,1248.5 1468.4,1248.7C1471.6,1248.9 1474.9,1249.1 1478.5,1249.3C1482,1249.5 1485.5,1249.7 1489.6,1249.8C1493.6,1250 1497.5,1250.2 1502.7,1250.3C1508,1250.5 1514.7,1250.7 1520.9,1250.8C1527.2,1250.9 1533.5,1251.1 1540.1,1251.2C1546.6,1251.3 1553.2,1251.4 1560.2,1251.4C1567.2,1251.5 1574.8,1251.6 1582.3,1251.6C1589.8,1251.6 1597.1,1251.6 1605.3,1251.6C1613.4,1251.6 1621.8,1251.6 1631.2,1251.5C1640.7,1251.5 1650.5,1251.4 1662.1,1251.3C1673.8,1251.1 1687.9,1251 1701,1250.8C1714.1,1250.6 1728,1250.4 1740.8,1250.3C1753.6,1250.1 1766.7,1250 1777.7,1249.9C1788.7,1249.8 1797.6,1249.7 1806.7,1249.7C1815.7,1249.6 1823.7,1249.6 1831.7,1249.6C1839.7,1249.6 1847.4,1249.6 1854.8,1249.7C1862.2,1249.7 1869.6,1249.8 1875.9,1249.8C1882.3,1249.9 1890.3,1250 1893.1,1250.1"/>
</g>
<g fill="none" stroke="#000" stroke-width="4.4" stroke-linecap="butt">
<path d="M255.8,69.2 H1895 V1392.4"/>
<path d="M282.3,67 V1392.4 M255.8,1365.9 H1895"/>
<path d="M255.8,1180.7 H282.3M255.8,995.4 H282.3M255.8,810.2 H282.3M255.8,624.9 H282.3M255.8,439.7 H282.3M255.8,254.4 H282.3M270.8,1273.3 H282.3M270.8,1088 H282.3M270.8,902.8 H282.3M270.8,717.6 H282.3M270.8,532.3 H282.3M270.8,347.1 H282.3M270.8,161.8 H282.3M551.1,1365.9 V1392.4M819.9,1365.9 V1392.4M1088.7,1365.9 V1392.4M1357.4,1365.9 V1392.4M1626.2,1365.9 V1392.4M416.7,1365.9 V1379.4M685.5,1365.9 V1379.4M954.3,1365.9 V1379.4M1223,1365.9 V1379.4M1491.8,1365.9 V1379.4M1760.6,1365.9 V1379.4"/>
</g>
<text transform="translate(240.5,1388.6)" font-size="89" text-anchor="end" stroke="#fff" stroke-width="0.6">0</text>
<text transform="translate(240.5,1203.49)" font-size="89" text-anchor="end" stroke="#fff" stroke-width="0.6">10</text>
<text transform="translate(240.5,1018.39)" font-size="89" text-anchor="end" stroke="#fff" stroke-width="0.6">20</text>
<text transform="translate(240.5,833.28)" font-size="89" text-anchor="end" stroke="#fff" stroke-width="0.6">30</text>
<text transform="translate(240.5,648.17)" font-size="89" text-anchor="end" stroke="#fff" stroke-width="0.6">40</text>
<text transform="translate(240.5,463.06)" font-size="89" text-anchor="end" stroke="#fff" stroke-width="0.6">50</text>
<text transform="translate(240.5,277.96)" font-size="89" text-anchor="end" stroke="#fff" stroke-width="0.6">60</text>
<text transform="translate(240.5,92.85)" font-size="89" text-anchor="end" stroke="#fff" stroke-width="0.6">70</text>
<text transform="translate(280.8,1473)" font-size="86.5" text-anchor="middle" stroke="#fff" stroke-width="0.6">0.1</text>
<text transform="translate(549.58,1473)" font-size="86.5" text-anchor="middle" stroke="#fff" stroke-width="0.6">0.2</text>
<text transform="translate(818.37,1473)" font-size="86.5" text-anchor="middle" stroke="#fff" stroke-width="0.6">0.3</text>
<text transform="translate(1087.15,1473)" font-size="86.5" text-anchor="middle" stroke="#fff" stroke-width="0.6">0.4</text>
<text transform="translate(1355.93,1473)" font-size="86.5" text-anchor="middle" stroke="#fff" stroke-width="0.6">0.5</text>
<text transform="translate(1624.72,1473)" font-size="86.5" text-anchor="middle" stroke="#fff" stroke-width="0.6">0.6</text>
<text transform="translate(1893.5,1473)" font-size="86.5" text-anchor="middle" stroke="#fff" stroke-width="0.6">0.7</text>
<text transform="translate(1086.7,1635.8) scale(0.957,1)" font-size="115.5" text-anchor="middle" font-weight="bold" stroke="#fff" stroke-width="0.8">Potential (V)</text>
<text transform="translate(114.5,716) rotate(-90) scale(0.955,1)" font-size="116" text-anchor="middle" font-weight="bold" stroke="#fff" stroke-width="0.8">Current (<tspan font-weight="normal">µ</tspan>A)</text>
<text transform="translate(564,445) scale(1.012,1)" font-size="60.5" font-weight="bold" stroke="#fff" stroke-width="0.5">30 µM</text>
<text transform="translate(564,517.55) scale(1.012,1)" font-size="60.5" font-weight="bold" stroke="#fff" stroke-width="0.5">20 µM</text>
<text transform="translate(564,590.1) scale(1.012,1)" font-size="60.5" font-weight="bold" stroke="#fff" stroke-width="0.5">10 µM</text>
<text transform="translate(564,662.65) scale(1.012,1)" font-size="60.5" font-weight="bold" stroke="#fff" stroke-width="0.5">5 µM</text>
<text transform="translate(564,735.2) scale(1.012,1)" font-size="60.5" font-weight="bold" stroke="#fff" stroke-width="0.5">2 µM</text>
<text transform="translate(564,807.75) scale(1.012,1)" font-size="60.5" font-weight="bold" stroke="#fff" stroke-width="0.5">1 µM</text>
<text transform="translate(564,880.3) scale(1.012,1)" font-size="60.5" font-weight="bold" stroke="#fff" stroke-width="0.5">0.5 µM</text>
<text transform="translate(564,952.85) scale(1.012,1)" font-size="60.5" font-weight="bold" stroke="#fff" stroke-width="0.5">0.1 µM</text>
<text transform="translate(564,1025.4) scale(1.012,1)" font-size="60.5" font-weight="bold" stroke="#fff" stroke-width="0.5">0.05 µM</text>
<path d="M465.1,1040 V421" stroke="#000" stroke-width="7" fill="none"/>
<path d="M465.1,403 l11.5,22.2 h-23 Z" fill="#000"/>
<rect x="1256.6" y="93.9" width="608.6" height="488.7" fill="#fff" stroke="#000" stroke-width="2.6"/>
<path d="M1247.3,550.5 H1256.6M1247.3,452.6 H1256.6M1247.3,354.6 H1256.6M1247.3,256.7 H1256.6M1247.3,158.8 H1256.6M1252.1,501.5 H1256.6M1252.1,403.6 H1256.6M1252.1,305.7 H1256.6M1252.1,207.8 H1256.6M1252.1,109.8 H1256.6M1299,582.6 V591.9M1386.2,582.6 V591.9M1473.3,582.6 V591.9M1560.5,582.6 V591.9M1647.7,582.6 V591.9M1734.8,582.6 V591.9M1822,582.6 V591.9M1342.6,582.6 V587.1M1429.8,582.6 V587.1M1516.9,582.6 V587.1M1604.1,582.6 V587.1M1691.2,582.6 V587.1M1778.4,582.6 V587.1" stroke="#000" stroke-width="2.2" fill="none"/>
<text transform="translate(1239.1,562.3)" font-size="41.3" text-anchor="end" stroke="#fff" stroke-width="0.5">0</text>
<text transform="translate(1239.1,464.38)" font-size="41.3" text-anchor="end" stroke="#fff" stroke-width="0.5">15</text>
<text transform="translate(1239.1,366.45)" font-size="41.3" text-anchor="end" stroke="#fff" stroke-width="0.5">30</text>
<text transform="translate(1239.1,268.53)" font-size="41.3" text-anchor="end" stroke="#fff" stroke-width="0.5">45</text>
<text transform="translate(1239.1,170.6)" font-size="41.3" text-anchor="end" stroke="#fff" stroke-width="0.5">60</text>
<text transform="translate(1299,630.3)" font-size="41" text-anchor="middle" stroke="#fff" stroke-width="0.5">0</text>
<text transform="translate(1386.17,630.3)" font-size="41" text-anchor="middle" stroke="#fff" stroke-width="0.5">5</text>
<text transform="translate(1473.33,630.3)" font-size="41" text-anchor="middle" stroke="#fff" stroke-width="0.5">10</text>
<text transform="translate(1560.5,630.3)" font-size="41" text-anchor="middle" stroke="#fff" stroke-width="0.5">15</text>
<text transform="translate(1647.67,630.3)" font-size="41" text-anchor="middle" stroke="#fff" stroke-width="0.5">20</text>
<text transform="translate(1734.83,630.3)" font-size="41" text-anchor="middle" stroke="#fff" stroke-width="0.5">25</text>
<text transform="translate(1822,630.3)" font-size="41" text-anchor="middle" stroke="#fff" stroke-width="0.5">30</text>
<text transform="translate(1560.2,700.3)" font-size="41.5" text-anchor="middle" font-weight="bold" letter-spacing="0" stroke="#fff" stroke-width="0.6">Concentration (µM)</text>
<text transform="translate(1182,335.8) rotate(-90)" font-size="41.5" text-anchor="middle" font-weight="bold" letter-spacing="0" stroke="#fff" stroke-width="0.6">Current (mA)</text>
<g fill="#000">
<circle cx="1820.9" cy="132.5" r="7.8"/>
<circle cx="1647.6" cy="263.7" r="7.8"/>
<circle cx="1474.3" cy="411.6" r="7.8"/>
<circle cx="1387.4" cy="457.1" r="7.8"/>
<circle cx="1334.6" cy="478.3" r="7.8"/>
<circle cx="1317.6" cy="496.5" r="7.8"/>
<circle cx="1308.3" cy="511.9" r="7.8"/>
<circle cx="1301.7" cy="518.5" r="7.8"/>
<circle cx="1299.8" cy="523.5" r="7.8"/>
</g>
<path d="M1302.2,513.3 L1811.2,126 l2,-0.4" stroke="#f00" stroke-width="1.7" fill="none"/>
</svg>
</body></html>
